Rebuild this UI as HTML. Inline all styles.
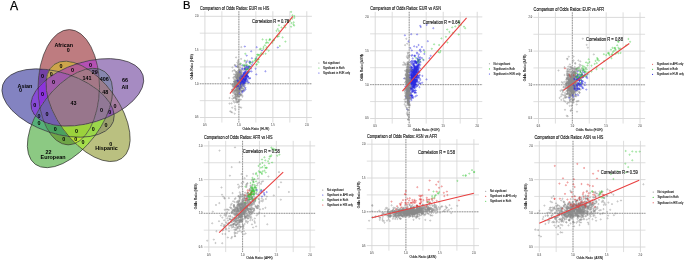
<!DOCTYPE html>
<html><head><meta charset="utf-8"><style>
html,body{margin:0;padding:0;background:#fff;width:685px;height:261px;overflow:hidden}
svg{display:block}
text{font-family:"Liberation Sans",sans-serif}
</style></head><body>
<svg style="will-change:transform" width="685" height="261" viewBox="0 0 685 261">
<rect width="685" height="261" fill="#fff"/>
<text x="10.00" y="10.00" font-size="12.2" font-weight="normal" text-anchor="start" fill="#000" stroke="#000" stroke-width="0.25" >A</text>
<defs><clipPath id="c0"><ellipse cx="-5.645" cy="-15.249" rx="58.020" ry="30.590" transform="rotate(-89.410 -5.645 -15.249)" /></clipPath><clipPath id="c1"><ellipse cx="12.758" cy="-10.081" rx="58.020" ry="30.590" transform="rotate(-17.410 12.758 -10.081)" /></clipPath><clipPath id="c2"><ellipse cx="13.530" cy="9.018" rx="58.020" ry="30.590" transform="rotate(54.590 13.530 9.018)" /></clipPath><clipPath id="c3"><ellipse cx="-4.396" cy="15.655" rx="58.020" ry="30.590" transform="rotate(126.590 -4.396 15.655)" /></clipPath><clipPath id="c4"><ellipse cx="-16.247" cy="0.657" rx="58.020" ry="30.590" transform="rotate(198.590 -16.247 0.657)" /></clipPath></defs>
<g transform="translate(74.441 102.398) scale(1.0060 0.9941)">
<mask id="m1" maskUnits="userSpaceOnUse" x="-80" y="-80" width="160" height="160"><rect x="-80" y="-80" width="160" height="160" fill="#fff"/><ellipse cx="12.758" cy="-10.081" rx="58.020" ry="30.590" transform="rotate(-17.410 12.758 -10.081)" fill="#000" stroke="#000" stroke-width="0.3"/><ellipse cx="13.530" cy="9.018" rx="58.020" ry="30.590" transform="rotate(54.590 13.530 9.018)" fill="#000" stroke="#000" stroke-width="0.3"/><ellipse cx="-4.396" cy="15.655" rx="58.020" ry="30.590" transform="rotate(126.590 -4.396 15.655)" fill="#000" stroke="#000" stroke-width="0.3"/><ellipse cx="-16.247" cy="0.657" rx="58.020" ry="30.590" transform="rotate(198.590 -16.247 0.657)" fill="#000" stroke="#000" stroke-width="0.3"/></mask>
<g clip-path="url(#c0)"><g mask="url(#m1)"><rect x="-80" y="-80" width="160" height="160" fill="rgb(190, 124, 128)"/></g></g>
<mask id="m2" maskUnits="userSpaceOnUse" x="-80" y="-80" width="160" height="160"><rect x="-80" y="-80" width="160" height="160" fill="#fff"/><ellipse cx="-5.645" cy="-15.249" rx="58.020" ry="30.590" transform="rotate(-89.410 -5.645 -15.249)" fill="#000" stroke="#000" stroke-width="0.3"/><ellipse cx="12.758" cy="-10.081" rx="58.020" ry="30.590" transform="rotate(-17.410 12.758 -10.081)" fill="#000" stroke="#000" stroke-width="0.3"/><ellipse cx="13.530" cy="9.018" rx="58.020" ry="30.590" transform="rotate(54.590 13.530 9.018)" fill="#000" stroke="#000" stroke-width="0.3"/><ellipse cx="-4.396" cy="15.655" rx="58.020" ry="30.590" transform="rotate(126.590 -4.396 15.655)" fill="#000" stroke="#000" stroke-width="0.3"/></mask>
<g clip-path="url(#c4)"><g mask="url(#m2)"><rect x="-80" y="-80" width="160" height="160" fill="rgb(131, 131, 193)"/></g></g>
<mask id="m3" maskUnits="userSpaceOnUse" x="-80" y="-80" width="160" height="160"><rect x="-80" y="-80" width="160" height="160" fill="#fff"/><ellipse cx="-5.645" cy="-15.249" rx="58.020" ry="30.590" transform="rotate(-89.410 -5.645 -15.249)" fill="#000" stroke="#000" stroke-width="0.3"/><ellipse cx="13.530" cy="9.018" rx="58.020" ry="30.590" transform="rotate(54.590 13.530 9.018)" fill="#000" stroke="#000" stroke-width="0.3"/><ellipse cx="-4.396" cy="15.655" rx="58.020" ry="30.590" transform="rotate(126.590 -4.396 15.655)" fill="#000" stroke="#000" stroke-width="0.3"/><ellipse cx="-16.247" cy="0.657" rx="58.020" ry="30.590" transform="rotate(198.590 -16.247 0.657)" fill="#000" stroke="#000" stroke-width="0.3"/></mask>
<g clip-path="url(#c1)"><g mask="url(#m3)"><rect x="-80" y="-80" width="160" height="160" fill="rgb(166, 139, 194)"/></g></g>
<mask id="m4" maskUnits="userSpaceOnUse" x="-80" y="-80" width="160" height="160"><rect x="-80" y="-80" width="160" height="160" fill="#fff"/><ellipse cx="-5.645" cy="-15.249" rx="58.020" ry="30.590" transform="rotate(-89.410 -5.645 -15.249)" fill="#000" stroke="#000" stroke-width="0.3"/><ellipse cx="12.758" cy="-10.081" rx="58.020" ry="30.590" transform="rotate(-17.410 12.758 -10.081)" fill="#000" stroke="#000" stroke-width="0.3"/><ellipse cx="-4.396" cy="15.655" rx="58.020" ry="30.590" transform="rotate(126.590 -4.396 15.655)" fill="#000" stroke="#000" stroke-width="0.3"/><ellipse cx="-16.247" cy="0.657" rx="58.020" ry="30.590" transform="rotate(198.590 -16.247 0.657)" fill="#000" stroke="#000" stroke-width="0.3"/></mask>
<g clip-path="url(#c2)"><g mask="url(#m4)"><rect x="-80" y="-80" width="160" height="160" fill="rgb(186, 192, 128)"/></g></g>
<mask id="m5" maskUnits="userSpaceOnUse" x="-80" y="-80" width="160" height="160"><rect x="-80" y="-80" width="160" height="160" fill="#fff"/><ellipse cx="-5.645" cy="-15.249" rx="58.020" ry="30.590" transform="rotate(-89.410 -5.645 -15.249)" fill="#000" stroke="#000" stroke-width="0.3"/><ellipse cx="12.758" cy="-10.081" rx="58.020" ry="30.590" transform="rotate(-17.410 12.758 -10.081)" fill="#000" stroke="#000" stroke-width="0.3"/><ellipse cx="13.530" cy="9.018" rx="58.020" ry="30.590" transform="rotate(54.590 13.530 9.018)" fill="#000" stroke="#000" stroke-width="0.3"/><ellipse cx="-16.247" cy="0.657" rx="58.020" ry="30.590" transform="rotate(198.590 -16.247 0.657)" fill="#000" stroke="#000" stroke-width="0.3"/></mask>
<g clip-path="url(#c3)"><g mask="url(#m5)"><rect x="-80" y="-80" width="160" height="160" fill="rgb(140, 201, 131)"/></g></g>
<mask id="m6" maskUnits="userSpaceOnUse" x="-80" y="-80" width="160" height="160"><rect x="-80" y="-80" width="160" height="160" fill="#fff"/><ellipse cx="12.758" cy="-10.081" rx="58.020" ry="30.590" transform="rotate(-17.410 12.758 -10.081)" fill="#000" stroke="#000" stroke-width="0.3"/><ellipse cx="13.530" cy="9.018" rx="58.020" ry="30.590" transform="rotate(54.590 13.530 9.018)" fill="#000" stroke="#000" stroke-width="0.3"/><ellipse cx="-4.396" cy="15.655" rx="58.020" ry="30.590" transform="rotate(126.590 -4.396 15.655)" fill="#000" stroke="#000" stroke-width="0.3"/></mask>
<g clip-path="url(#c4)"><g clip-path="url(#c0)"><g mask="url(#m6)"><rect x="-80" y="-80" width="160" height="160" fill="rgb(115, 65, 165)"/></g></g></g>
<mask id="m7" maskUnits="userSpaceOnUse" x="-80" y="-80" width="160" height="160"><rect x="-80" y="-80" width="160" height="160" fill="#fff"/><ellipse cx="-5.645" cy="-15.249" rx="58.020" ry="30.590" transform="rotate(-89.410 -5.645 -15.249)" fill="#000" stroke="#000" stroke-width="0.3"/><ellipse cx="13.530" cy="9.018" rx="58.020" ry="30.590" transform="rotate(54.590 13.530 9.018)" fill="#000" stroke="#000" stroke-width="0.3"/><ellipse cx="-4.396" cy="15.655" rx="58.020" ry="30.590" transform="rotate(126.590 -4.396 15.655)" fill="#000" stroke="#000" stroke-width="0.3"/></mask>
<g clip-path="url(#c4)"><g clip-path="url(#c1)"><g mask="url(#m7)"><rect x="-80" y="-80" width="160" height="160" fill="rgb(135, 75, 215)"/></g></g></g>
<mask id="m8" maskUnits="userSpaceOnUse" x="-80" y="-80" width="160" height="160"><rect x="-80" y="-80" width="160" height="160" fill="#fff"/><ellipse cx="-5.645" cy="-15.249" rx="58.020" ry="30.590" transform="rotate(-89.410 -5.645 -15.249)" fill="#000" stroke="#000" stroke-width="0.3"/><ellipse cx="12.758" cy="-10.081" rx="58.020" ry="30.590" transform="rotate(-17.410 12.758 -10.081)" fill="#000" stroke="#000" stroke-width="0.3"/><ellipse cx="13.530" cy="9.018" rx="58.020" ry="30.590" transform="rotate(54.590 13.530 9.018)" fill="#000" stroke="#000" stroke-width="0.3"/></mask>
<g clip-path="url(#c4)"><g clip-path="url(#c3)"><g mask="url(#m8)"><rect x="-80" y="-80" width="160" height="160" fill="rgb(85, 175, 120)"/></g></g></g>
<mask id="m9" maskUnits="userSpaceOnUse" x="-80" y="-80" width="160" height="160"><rect x="-80" y="-80" width="160" height="160" fill="#fff"/><ellipse cx="12.758" cy="-10.081" rx="58.020" ry="30.590" transform="rotate(-17.410 12.758 -10.081)" fill="#000" stroke="#000" stroke-width="0.3"/><ellipse cx="-4.396" cy="15.655" rx="58.020" ry="30.590" transform="rotate(126.590 -4.396 15.655)" fill="#000" stroke="#000" stroke-width="0.3"/><ellipse cx="-16.247" cy="0.657" rx="58.020" ry="30.590" transform="rotate(198.590 -16.247 0.657)" fill="#000" stroke="#000" stroke-width="0.3"/></mask>
<g clip-path="url(#c2)"><g clip-path="url(#c0)"><g mask="url(#m9)"><rect x="-80" y="-80" width="160" height="160" fill="rgb(205, 165, 75)"/></g></g></g>
<mask id="m10" maskUnits="userSpaceOnUse" x="-80" y="-80" width="160" height="160"><rect x="-80" y="-80" width="160" height="160" fill="#fff"/><ellipse cx="12.758" cy="-10.081" rx="58.020" ry="30.590" transform="rotate(-17.410 12.758 -10.081)" fill="#000" stroke="#000" stroke-width="0.3"/><ellipse cx="13.530" cy="9.018" rx="58.020" ry="30.590" transform="rotate(54.590 13.530 9.018)" fill="#000" stroke="#000" stroke-width="0.3"/><ellipse cx="-16.247" cy="0.657" rx="58.020" ry="30.590" transform="rotate(198.590 -16.247 0.657)" fill="#000" stroke="#000" stroke-width="0.3"/></mask>
<g clip-path="url(#c3)"><g clip-path="url(#c0)"><g mask="url(#m10)"><rect x="-80" y="-80" width="160" height="160" fill="rgb(110, 165, 70)"/></g></g></g>
<mask id="m11" maskUnits="userSpaceOnUse" x="-80" y="-80" width="160" height="160"><rect x="-80" y="-80" width="160" height="160" fill="#fff"/><ellipse cx="-5.645" cy="-15.249" rx="58.020" ry="30.590" transform="rotate(-89.410 -5.645 -15.249)" fill="#000" stroke="#000" stroke-width="0.3"/><ellipse cx="12.758" cy="-10.081" rx="58.020" ry="30.590" transform="rotate(-17.410 12.758 -10.081)" fill="#000" stroke="#000" stroke-width="0.3"/><ellipse cx="-16.247" cy="0.657" rx="58.020" ry="30.590" transform="rotate(198.590 -16.247 0.657)" fill="#000" stroke="#000" stroke-width="0.3"/></mask>
<g clip-path="url(#c3)"><g clip-path="url(#c2)"><g mask="url(#m11)"><rect x="-80" y="-80" width="160" height="160" fill="rgb(165, 222, 75)"/></g></g></g>
<mask id="m12" maskUnits="userSpaceOnUse" x="-80" y="-80" width="160" height="160"><rect x="-80" y="-80" width="160" height="160" fill="#fff"/><ellipse cx="13.530" cy="9.018" rx="58.020" ry="30.590" transform="rotate(54.590 13.530 9.018)" fill="#000" stroke="#000" stroke-width="0.3"/><ellipse cx="-4.396" cy="15.655" rx="58.020" ry="30.590" transform="rotate(126.590 -4.396 15.655)" fill="#000" stroke="#000" stroke-width="0.3"/><ellipse cx="-16.247" cy="0.657" rx="58.020" ry="30.590" transform="rotate(198.590 -16.247 0.657)" fill="#000" stroke="#000" stroke-width="0.3"/></mask>
<g clip-path="url(#c1)"><g clip-path="url(#c0)"><g mask="url(#m12)"><rect x="-80" y="-80" width="160" height="160" fill="rgb(180, 80, 180)"/></g></g></g>
<mask id="m13" maskUnits="userSpaceOnUse" x="-80" y="-80" width="160" height="160"><rect x="-80" y="-80" width="160" height="160" fill="#fff"/><ellipse cx="-5.645" cy="-15.249" rx="58.020" ry="30.590" transform="rotate(-89.410 -5.645 -15.249)" fill="#000" stroke="#000" stroke-width="0.3"/><ellipse cx="12.758" cy="-10.081" rx="58.020" ry="30.590" transform="rotate(-17.410 12.758 -10.081)" fill="#000" stroke="#000" stroke-width="0.3"/><ellipse cx="-4.396" cy="15.655" rx="58.020" ry="30.590" transform="rotate(126.590 -4.396 15.655)" fill="#000" stroke="#000" stroke-width="0.3"/></mask>
<g clip-path="url(#c4)"><g clip-path="url(#c2)"><g mask="url(#m13)"><rect x="-80" y="-80" width="160" height="160" fill="rgb(155, 160, 110)"/></g></g></g>
<mask id="m14" maskUnits="userSpaceOnUse" x="-80" y="-80" width="160" height="160"><rect x="-80" y="-80" width="160" height="160" fill="#fff"/><ellipse cx="-5.645" cy="-15.249" rx="58.020" ry="30.590" transform="rotate(-89.410 -5.645 -15.249)" fill="#000" stroke="#000" stroke-width="0.3"/><ellipse cx="13.530" cy="9.018" rx="58.020" ry="30.590" transform="rotate(54.590 13.530 9.018)" fill="#000" stroke="#000" stroke-width="0.3"/><ellipse cx="-16.247" cy="0.657" rx="58.020" ry="30.590" transform="rotate(198.590 -16.247 0.657)" fill="#000" stroke="#000" stroke-width="0.3"/></mask>
<g clip-path="url(#c3)"><g clip-path="url(#c1)"><g mask="url(#m14)"><rect x="-80" y="-80" width="160" height="160" fill="rgb(135, 135, 175)"/></g></g></g>
<mask id="m15" maskUnits="userSpaceOnUse" x="-80" y="-80" width="160" height="160"><rect x="-80" y="-80" width="160" height="160" fill="#fff"/><ellipse cx="-5.645" cy="-15.249" rx="58.020" ry="30.590" transform="rotate(-89.410 -5.645 -15.249)" fill="#000" stroke="#000" stroke-width="0.3"/><ellipse cx="-4.396" cy="15.655" rx="58.020" ry="30.590" transform="rotate(126.590 -4.396 15.655)" fill="#000" stroke="#000" stroke-width="0.3"/><ellipse cx="-16.247" cy="0.657" rx="58.020" ry="30.590" transform="rotate(198.590 -16.247 0.657)" fill="#000" stroke="#000" stroke-width="0.3"/></mask>
<g clip-path="url(#c2)"><g clip-path="url(#c1)"><g mask="url(#m15)"><rect x="-80" y="-80" width="160" height="160" fill="rgb(165, 125, 160)"/></g></g></g>
<mask id="m16" maskUnits="userSpaceOnUse" x="-80" y="-80" width="160" height="160"><rect x="-80" y="-80" width="160" height="160" fill="#fff"/><ellipse cx="-5.645" cy="-15.249" rx="58.020" ry="30.590" transform="rotate(-89.410 -5.645 -15.249)" fill="#000" stroke="#000" stroke-width="0.3"/><ellipse cx="13.530" cy="9.018" rx="58.020" ry="30.590" transform="rotate(54.590 13.530 9.018)" fill="#000" stroke="#000" stroke-width="0.3"/></mask>
<g clip-path="url(#c4)"><g clip-path="url(#c3)"><g clip-path="url(#c1)"><g mask="url(#m16)"><rect x="-80" y="-80" width="160" height="160" fill="rgb(105, 100, 175)"/></g></g></g></g>
<mask id="m17" maskUnits="userSpaceOnUse" x="-80" y="-80" width="160" height="160"><rect x="-80" y="-80" width="160" height="160" fill="#fff"/><ellipse cx="13.530" cy="9.018" rx="58.020" ry="30.590" transform="rotate(54.590 13.530 9.018)" fill="#000" stroke="#000" stroke-width="0.3"/><ellipse cx="-4.396" cy="15.655" rx="58.020" ry="30.590" transform="rotate(126.590 -4.396 15.655)" fill="#000" stroke="#000" stroke-width="0.3"/></mask>
<g clip-path="url(#c4)"><g clip-path="url(#c1)"><g clip-path="url(#c0)"><g mask="url(#m17)"><rect x="-80" y="-80" width="160" height="160" fill="rgb(140, 50, 220)"/></g></g></g></g>
<mask id="m18" maskUnits="userSpaceOnUse" x="-80" y="-80" width="160" height="160"><rect x="-80" y="-80" width="160" height="160" fill="#fff"/><ellipse cx="12.758" cy="-10.081" rx="58.020" ry="30.590" transform="rotate(-17.410 12.758 -10.081)" fill="#000" stroke="#000" stroke-width="0.3"/><ellipse cx="13.530" cy="9.018" rx="58.020" ry="30.590" transform="rotate(54.590 13.530 9.018)" fill="#000" stroke="#000" stroke-width="0.3"/></mask>
<g clip-path="url(#c4)"><g clip-path="url(#c3)"><g clip-path="url(#c0)"><g mask="url(#m18)"><rect x="-80" y="-80" width="160" height="160" fill="rgb(75, 160, 95)"/></g></g></g></g>
<mask id="m19" maskUnits="userSpaceOnUse" x="-80" y="-80" width="160" height="160"><rect x="-80" y="-80" width="160" height="160" fill="#fff"/><ellipse cx="12.758" cy="-10.081" rx="58.020" ry="30.590" transform="rotate(-17.410 12.758 -10.081)" fill="#000" stroke="#000" stroke-width="0.3"/><ellipse cx="-4.396" cy="15.655" rx="58.020" ry="30.590" transform="rotate(126.590 -4.396 15.655)" fill="#000" stroke="#000" stroke-width="0.3"/></mask>
<g clip-path="url(#c4)"><g clip-path="url(#c2)"><g clip-path="url(#c0)"><g mask="url(#m19)"><rect x="-80" y="-80" width="160" height="160" fill="rgb(190, 165, 95)"/></g></g></g></g>
<mask id="m20" maskUnits="userSpaceOnUse" x="-80" y="-80" width="160" height="160"><rect x="-80" y="-80" width="160" height="160" fill="#fff"/><ellipse cx="-4.396" cy="15.655" rx="58.020" ry="30.590" transform="rotate(126.590 -4.396 15.655)" fill="#000" stroke="#000" stroke-width="0.3"/><ellipse cx="-16.247" cy="0.657" rx="58.020" ry="30.590" transform="rotate(198.590 -16.247 0.657)" fill="#000" stroke="#000" stroke-width="0.3"/></mask>
<g clip-path="url(#c2)"><g clip-path="url(#c1)"><g clip-path="url(#c0)"><g mask="url(#m20)"><rect x="-80" y="-80" width="160" height="160" fill="rgb(180, 95, 145)"/></g></g></g></g>
<mask id="m21" maskUnits="userSpaceOnUse" x="-80" y="-80" width="160" height="160"><rect x="-80" y="-80" width="160" height="160" fill="#fff"/><ellipse cx="12.758" cy="-10.081" rx="58.020" ry="30.590" transform="rotate(-17.410 12.758 -10.081)" fill="#000" stroke="#000" stroke-width="0.3"/><ellipse cx="-16.247" cy="0.657" rx="58.020" ry="30.590" transform="rotate(198.590 -16.247 0.657)" fill="#000" stroke="#000" stroke-width="0.3"/></mask>
<g clip-path="url(#c3)"><g clip-path="url(#c2)"><g clip-path="url(#c0)"><g mask="url(#m21)"><rect x="-80" y="-80" width="160" height="160" fill="rgb(185, 226, 55)"/></g></g></g></g>
<mask id="m22" maskUnits="userSpaceOnUse" x="-80" y="-80" width="160" height="160"><rect x="-80" y="-80" width="160" height="160" fill="#fff"/><ellipse cx="-5.645" cy="-15.249" rx="58.020" ry="30.590" transform="rotate(-89.410 -5.645 -15.249)" fill="#000" stroke="#000" stroke-width="0.3"/><ellipse cx="12.758" cy="-10.081" rx="58.020" ry="30.590" transform="rotate(-17.410 12.758 -10.081)" fill="#000" stroke="#000" stroke-width="0.3"/></mask>
<g clip-path="url(#c4)"><g clip-path="url(#c3)"><g clip-path="url(#c2)"><g mask="url(#m22)"><rect x="-80" y="-80" width="160" height="160" fill="rgb(155, 215, 75)"/></g></g></g></g>
<mask id="m23" maskUnits="userSpaceOnUse" x="-80" y="-80" width="160" height="160"><rect x="-80" y="-80" width="160" height="160" fill="#fff"/><ellipse cx="13.530" cy="9.018" rx="58.020" ry="30.590" transform="rotate(54.590 13.530 9.018)" fill="#000" stroke="#000" stroke-width="0.3"/><ellipse cx="-16.247" cy="0.657" rx="58.020" ry="30.590" transform="rotate(198.590 -16.247 0.657)" fill="#000" stroke="#000" stroke-width="0.3"/></mask>
<g clip-path="url(#c3)"><g clip-path="url(#c1)"><g clip-path="url(#c0)"><g mask="url(#m23)"><rect x="-80" y="-80" width="160" height="160" fill="rgb(130, 105, 150)"/></g></g></g></g>
<mask id="m24" maskUnits="userSpaceOnUse" x="-80" y="-80" width="160" height="160"><rect x="-80" y="-80" width="160" height="160" fill="#fff"/><ellipse cx="-5.645" cy="-15.249" rx="58.020" ry="30.590" transform="rotate(-89.410 -5.645 -15.249)" fill="#000" stroke="#000" stroke-width="0.3"/><ellipse cx="-16.247" cy="0.657" rx="58.020" ry="30.590" transform="rotate(198.590 -16.247 0.657)" fill="#000" stroke="#000" stroke-width="0.3"/></mask>
<g clip-path="url(#c3)"><g clip-path="url(#c2)"><g clip-path="url(#c1)"><g mask="url(#m24)"><rect x="-80" y="-80" width="160" height="160" fill="rgb(155, 125, 140)"/></g></g></g></g>
<mask id="m25" maskUnits="userSpaceOnUse" x="-80" y="-80" width="160" height="160"><rect x="-80" y="-80" width="160" height="160" fill="#fff"/><ellipse cx="-5.645" cy="-15.249" rx="58.020" ry="30.590" transform="rotate(-89.410 -5.645 -15.249)" fill="#000" stroke="#000" stroke-width="0.3"/><ellipse cx="-4.396" cy="15.655" rx="58.020" ry="30.590" transform="rotate(126.590 -4.396 15.655)" fill="#000" stroke="#000" stroke-width="0.3"/></mask>
<g clip-path="url(#c4)"><g clip-path="url(#c2)"><g clip-path="url(#c1)"><g mask="url(#m25)"><rect x="-80" y="-80" width="160" height="160" fill="rgb(140, 90, 170)"/></g></g></g></g>
<mask id="m26" maskUnits="userSpaceOnUse" x="-80" y="-80" width="160" height="160"><rect x="-80" y="-80" width="160" height="160" fill="#fff"/><ellipse cx="13.530" cy="9.018" rx="58.020" ry="30.590" transform="rotate(54.590 13.530 9.018)" fill="#000" stroke="#000" stroke-width="0.3"/></mask>
<g clip-path="url(#c4)"><g clip-path="url(#c3)"><g clip-path="url(#c1)"><g clip-path="url(#c0)"><g mask="url(#m26)"><rect x="-80" y="-80" width="160" height="160" fill="rgb(115, 95, 175)"/></g></g></g></g></g>
<mask id="m27" maskUnits="userSpaceOnUse" x="-80" y="-80" width="160" height="160"><rect x="-80" y="-80" width="160" height="160" fill="#fff"/><ellipse cx="-4.396" cy="15.655" rx="58.020" ry="30.590" transform="rotate(126.590 -4.396 15.655)" fill="#000" stroke="#000" stroke-width="0.3"/></mask>
<g clip-path="url(#c4)"><g clip-path="url(#c2)"><g clip-path="url(#c1)"><g clip-path="url(#c0)"><g mask="url(#m27)"><rect x="-80" y="-80" width="160" height="160" fill="rgb(160, 90, 170)"/></g></g></g></g></g>
<mask id="m28" maskUnits="userSpaceOnUse" x="-80" y="-80" width="160" height="160"><rect x="-80" y="-80" width="160" height="160" fill="#fff"/><ellipse cx="12.758" cy="-10.081" rx="58.020" ry="30.590" transform="rotate(-17.410 12.758 -10.081)" fill="#000" stroke="#000" stroke-width="0.3"/></mask>
<g clip-path="url(#c4)"><g clip-path="url(#c3)"><g clip-path="url(#c2)"><g clip-path="url(#c0)"><g mask="url(#m28)"><rect x="-80" y="-80" width="160" height="160" fill="rgb(155, 210, 60)"/></g></g></g></g></g>
<mask id="m29" maskUnits="userSpaceOnUse" x="-80" y="-80" width="160" height="160"><rect x="-80" y="-80" width="160" height="160" fill="#fff"/><ellipse cx="-16.247" cy="0.657" rx="58.020" ry="30.590" transform="rotate(198.590 -16.247 0.657)" fill="#000" stroke="#000" stroke-width="0.3"/></mask>
<g clip-path="url(#c3)"><g clip-path="url(#c2)"><g clip-path="url(#c1)"><g clip-path="url(#c0)"><g mask="url(#m29)"><rect x="-80" y="-80" width="160" height="160" fill="rgb(165, 120, 135)"/></g></g></g></g></g>
<mask id="m30" maskUnits="userSpaceOnUse" x="-80" y="-80" width="160" height="160"><rect x="-80" y="-80" width="160" height="160" fill="#fff"/><ellipse cx="-5.645" cy="-15.249" rx="58.020" ry="30.590" transform="rotate(-89.410 -5.645 -15.249)" fill="#000" stroke="#000" stroke-width="0.3"/></mask>
<g clip-path="url(#c4)"><g clip-path="url(#c3)"><g clip-path="url(#c2)"><g clip-path="url(#c1)"><g mask="url(#m30)"><rect x="-80" y="-80" width="160" height="160" fill="rgb(145, 120, 150)"/></g></g></g></g></g>
<g clip-path="url(#c4)"><g clip-path="url(#c3)"><g clip-path="url(#c2)"><g clip-path="url(#c1)"><g clip-path="url(#c0)"><rect x="-80" y="-80" width="160" height="160" fill="rgb(152, 118, 140)"/></g></g></g></g></g>
<ellipse cx="-5.645" cy="-15.249" rx="58.020" ry="30.590" transform="rotate(-89.410 -5.645 -15.249)" fill="none" stroke="#1e1e1e" stroke-width="0.6"/>
<ellipse cx="12.758" cy="-10.081" rx="58.020" ry="30.590" transform="rotate(-17.410 12.758 -10.081)" fill="none" stroke="#1e1e1e" stroke-width="0.6"/>
<ellipse cx="13.530" cy="9.018" rx="58.020" ry="30.590" transform="rotate(54.590 13.530 9.018)" fill="none" stroke="#1e1e1e" stroke-width="0.6"/>
<ellipse cx="-4.396" cy="15.655" rx="58.020" ry="30.590" transform="rotate(126.590 -4.396 15.655)" fill="none" stroke="#1e1e1e" stroke-width="0.6"/>
<ellipse cx="-16.247" cy="0.657" rx="58.020" ry="30.590" transform="rotate(198.590 -16.247 0.657)" fill="none" stroke="#1e1e1e" stroke-width="0.6"/>
</g>
<text x="63.70" y="47.29" font-size="5.4" font-weight="bold" text-anchor="middle" fill="#000" >African</text>
<text x="68.20" y="51.59" font-size="5.4" font-weight="bold" text-anchor="middle" fill="#000" >0</text>
<text x="24.90" y="88.09" font-size="5.4" font-weight="bold" text-anchor="middle" fill="#000" >Asian</text>
<text x="20.60" y="92.29" font-size="5.4" font-weight="bold" text-anchor="middle" fill="#000" >0</text>
<text x="124.90" y="82.19" font-size="5.4" font-weight="bold" text-anchor="middle" fill="#000" >66</text>
<text x="124.90" y="88.89" font-size="5.4" font-weight="bold" text-anchor="middle" fill="#000" >All</text>
<text x="110.70" y="145.79" font-size="5.4" font-weight="bold" text-anchor="middle" fill="#000" >0</text>
<text x="106.50" y="150.49" font-size="5.4" font-weight="bold" text-anchor="middle" fill="#000" >Hispanic</text>
<text x="48.50" y="153.99" font-size="5.4" font-weight="bold" text-anchor="middle" fill="#000" >22</text>
<text x="53.00" y="158.99" font-size="5.4" font-weight="bold" text-anchor="middle" fill="#000" >European</text>
<text x="42.40" y="78.29" font-size="5.4" font-weight="bold" text-anchor="middle" fill="#000" >0</text>
<text x="51.30" y="75.89" font-size="5.4" font-weight="bold" text-anchor="middle" fill="#000" >0</text>
<text x="61.10" y="68.49" font-size="5.4" font-weight="bold" text-anchor="middle" fill="#000" >0</text>
<text x="72.50" y="72.09" font-size="5.4" font-weight="bold" text-anchor="middle" fill="#000" >0</text>
<text x="53.50" y="84.09" font-size="5.4" font-weight="bold" text-anchor="middle" fill="#000" >0</text>
<text x="42.40" y="95.99" font-size="5.4" font-weight="bold" text-anchor="middle" fill="#000" >0</text>
<text x="34.70" y="107.29" font-size="5.4" font-weight="bold" text-anchor="middle" fill="#000" >0</text>
<text x="38.90" y="117.99" font-size="5.4" font-weight="bold" text-anchor="middle" fill="#000" >0</text>
<text x="46.90" y="116.09" font-size="5.4" font-weight="bold" text-anchor="middle" fill="#000" >0</text>
<text x="39.00" y="125.29" font-size="5.4" font-weight="bold" text-anchor="middle" fill="#000" >0</text>
<text x="55.30" y="130.99" font-size="5.4" font-weight="bold" text-anchor="middle" fill="#000" >0</text>
<text x="63.70" y="141.49" font-size="5.4" font-weight="bold" text-anchor="middle" fill="#000" >0</text>
<text x="75.70" y="141.39" font-size="5.4" font-weight="bold" text-anchor="middle" fill="#000" >0</text>
<text x="83.10" y="144.49" font-size="5.4" font-weight="bold" text-anchor="middle" fill="#000" >0</text>
<text x="76.60" y="133.29" font-size="5.4" font-weight="bold" text-anchor="middle" fill="#000" >0</text>
<text x="93.30" y="130.99" font-size="5.4" font-weight="bold" text-anchor="middle" fill="#000" >0</text>
<text x="105.90" y="127.19" font-size="5.4" font-weight="bold" text-anchor="middle" fill="#000" >0</text>
<text x="101.60" y="111.69" font-size="5.4" font-weight="bold" text-anchor="middle" fill="#000" >0</text>
<text x="109.80" y="114.29" font-size="5.4" font-weight="bold" text-anchor="middle" fill="#000" >0</text>
<text x="115.00" y="108.09" font-size="5.4" font-weight="bold" text-anchor="middle" fill="#000" >0</text>
<text x="90.50" y="67.39" font-size="5.4" font-weight="bold" text-anchor="middle" fill="#000" >0</text>
<text x="94.80" y="73.79" font-size="5.4" font-weight="bold" text-anchor="middle" fill="#000" >29</text>
<text x="87.10" y="79.79" font-size="5.4" font-weight="bold" text-anchor="middle" fill="#000" >141</text>
<text x="104.30" y="80.69" font-size="5.4" font-weight="bold" text-anchor="middle" fill="#000" >406</text>
<text x="105.20" y="94.49" font-size="5.4" font-weight="bold" text-anchor="middle" fill="#000" >48</text>
<text x="73.50" y="105.09" font-size="5.4" font-weight="bold" text-anchor="middle" fill="#000" >43</text>
<text x="183.00" y="9.00" font-size="11.2" font-weight="normal" text-anchor="start" fill="#000" stroke="#000" stroke-width="0.2" >B</text>
<defs><marker id="mk_grey" markerUnits="userSpaceOnUse" markerWidth="4" markerHeight="4" refX="2" refY="2" overflow="visible"><circle cx="2" cy="2" r="0.6" fill="none" stroke="#8a8a8a" stroke-width="0.42"/></marker><marker id="mk_green" markerUnits="userSpaceOnUse" markerWidth="4" markerHeight="4" refX="2" refY="2" overflow="visible"><circle cx="2" cy="2" r="0.6" fill="none" stroke="#3cc83c" stroke-width="0.42"/></marker><marker id="mk_blue" markerUnits="userSpaceOnUse" markerWidth="4" markerHeight="4" refX="2" refY="2" overflow="visible"><circle cx="2" cy="2" r="0.6" fill="none" stroke="#2a2ae0" stroke-width="0.42"/></marker><marker id="mk_red" markerUnits="userSpaceOnUse" markerWidth="4" markerHeight="4" refX="2" refY="2" overflow="visible"><circle cx="2" cy="2" r="0.6" fill="none" stroke="#e03030" stroke-width="0.42"/></marker></defs>
<line x1="221.88" y1="11.24" x2="221.88" y2="122.56" stroke="#d6d6d6" stroke-width="0.8"/>
<line x1="199.81" y1="100.63" x2="311.90" y2="100.63" stroke="#d6d6d6" stroke-width="0.8"/>
<line x1="255.85" y1="11.24" x2="255.85" y2="122.56" stroke="#d6d6d6" stroke-width="0.8"/>
<line x1="199.81" y1="66.90" x2="311.90" y2="66.90" stroke="#d6d6d6" stroke-width="0.8"/>
<line x1="289.82" y1="11.24" x2="289.82" y2="122.56" stroke="#d6d6d6" stroke-width="0.8"/>
<line x1="199.81" y1="33.17" x2="311.90" y2="33.17" stroke="#d6d6d6" stroke-width="0.8"/>
<line x1="204.90" y1="11.24" x2="204.90" y2="122.56" stroke="#d6d6d6" stroke-width="0.9"/>
<line x1="199.81" y1="117.50" x2="311.90" y2="117.50" stroke="#d6d6d6" stroke-width="0.9"/>
<line x1="238.87" y1="11.24" x2="238.87" y2="122.56" stroke="#d6d6d6" stroke-width="0.9"/>
<line x1="199.81" y1="83.77" x2="311.90" y2="83.77" stroke="#d6d6d6" stroke-width="0.9"/>
<line x1="272.83" y1="11.24" x2="272.83" y2="122.56" stroke="#d6d6d6" stroke-width="0.9"/>
<line x1="199.81" y1="50.03" x2="311.90" y2="50.03" stroke="#d6d6d6" stroke-width="0.9"/>
<line x1="306.80" y1="11.24" x2="306.80" y2="122.56" stroke="#d6d6d6" stroke-width="0.9"/>
<line x1="199.81" y1="16.30" x2="311.90" y2="16.30" stroke="#d6d6d6" stroke-width="0.9"/>
<line x1="238.87" y1="11.24" x2="238.87" y2="122.56" stroke="#4a4a4a" stroke-width="0.5" stroke-dasharray="1.4 1.1"/>
<line x1="199.81" y1="83.77" x2="311.90" y2="83.77" stroke="#4a4a4a" stroke-width="0.5" stroke-dasharray="1.4 1.1"/>
<path d="M239.6 83.8M236.0 86.2M236.3 86.9M243.6 83.5M236.9 87.8M240.4 79.0M234.7 81.8M240.1 84.0M236.5 96.1M233.6 101.2M236.9 99.5M238.6 94.8M238.5 82.3M235.1 108.4M239.1 84.1M236.1 98.5M236.7 89.9M237.9 77.2M241.2 84.3M237.8 91.1M239.2 82.7M237.6 101.6M235.9 71.9M239.6 78.1M243.8 89.9M236.6 77.7M240.6 83.2M240.0 84.9M241.5 84.9M237.8 64.7M238.1 82.4M234.1 81.6M238.2 87.4M243.3 74.9M236.0 94.0M235.3 79.3M238.4 86.7M241.2 74.9M237.6 86.5M243.0 86.5M237.6 87.7M238.8 81.6M236.0 85.1M238.0 83.8M244.8 61.3M240.8 84.2M241.2 86.7M240.6 84.0M238.8 90.7M229.5 103.6M236.6 85.9M243.8 83.0M236.0 92.7M240.1 82.4M238.3 85.1M239.9 80.6M238.2 90.1M236.1 83.2M237.2 81.8M240.0 76.2M237.2 82.7M234.3 84.2M239.0 92.4M239.3 96.6M239.9 107.2M241.0 95.0M233.9 81.9M242.9 74.9M238.3 84.2M236.1 85.0M238.3 74.8M236.8 84.0M232.5 92.2M239.6 70.0M239.5 77.1M237.7 88.6M238.6 87.4M238.0 86.4M231.2 111.9M238.4 70.4M239.0 92.1M234.7 65.1M237.7 84.8M239.5 99.7M239.0 83.9M239.4 89.2M238.2 87.7M236.0 90.4M238.5 71.7M239.0 81.8M237.4 87.0M238.4 75.9M238.8 85.3M242.7 69.5M236.9 78.2M240.2 94.5M239.4 70.9M240.8 80.2M242.1 76.3M242.8 88.4M240.8 99.6M241.3 80.1M245.8 63.1M234.3 91.8M237.1 77.7M242.7 84.3M232.8 95.9M239.5 79.4M238.8 85.5M229.5 98.0M235.2 85.4M238.9 94.2M239.8 84.4M236.8 90.8M231.6 103.4M237.3 82.2M240.4 80.0M237.4 71.7M239.3 76.2M234.9 83.5M241.6 90.6M239.1 84.7M241.7 86.6M234.7 83.5M234.6 87.8M234.7 113.7M240.5 67.5M234.0 98.1M239.7 77.2M238.8 83.4M241.8 83.6M239.6 80.5M239.4 91.7M240.8 88.8M237.8 92.6M235.7 83.5M244.8 67.1M241.7 90.7M228.9 78.0M238.9 81.0M236.4 82.9M238.0 86.6M240.3 75.5M242.1 84.1M237.9 87.0M240.8 94.9M241.0 78.2M239.6 78.4M238.4 81.9M238.9 85.9M241.3 71.8M237.4 84.1M243.4 90.8M239.9 75.9M236.6 85.7M240.8 84.4M237.7 88.2M239.0 85.9M237.4 94.9M240.8 92.5M239.7 89.9M239.1 73.6M238.9 87.9M236.2 83.6M246.1 79.3M238.1 86.1M238.9 91.2M234.9 94.6M237.9 76.2M242.0 77.9M240.0 82.3M239.7 69.9M233.2 90.5M241.5 83.8M237.4 76.9M236.5 92.3M238.5 80.5M240.0 81.7M238.6 86.2M238.8 81.0M242.8 80.9M239.5 78.3M238.7 96.2M230.2 111.3M240.2 80.0M235.3 84.5M236.8 86.8M247.9 76.8M237.6 82.3M237.7 94.9M235.3 85.2M235.1 82.1M244.1 70.4M238.4 74.2M238.9 79.4M237.5 87.4M232.3 98.7M238.9 79.0M240.8 82.7M234.6 102.5M239.7 82.7M241.3 87.2M235.8 81.7M239.8 88.9M235.9 80.9M241.8 70.9M238.9 74.0M235.1 86.5M241.3 47.1M238.5 72.7M235.0 82.2M240.8 86.7M240.0 90.4M236.2 80.4M237.5 87.5M237.5 84.1M236.2 97.0M234.4 92.8M242.7 84.8M237.7 96.8M234.6 91.2M237.8 73.2M238.2 74.4M238.5 79.9M239.9 91.0M240.2 85.1M232.8 84.1M238.9 84.9M236.8 73.1M234.7 83.7M236.6 78.2M237.0 102.6M236.7 77.2M235.6 94.6M239.1 96.3M236.6 90.0M236.9 77.3M237.2 80.8M233.5 93.1M239.6 63.8M238.9 82.5M239.2 82.2M237.5 66.7M235.3 96.1M239.8 94.6M237.1 77.1M235.9 101.8M232.5 71.1M234.0 74.3M236.6 73.7M234.5 86.0M241.5 91.5M238.3 74.6M233.5 90.4M238.4 87.7M238.6 84.5M237.5 96.6M241.6 84.3M239.7 70.7M237.6 94.8M236.2 89.3M235.7 84.1M239.2 73.4M238.4 80.5M235.5 90.4M236.5 86.6M239.0 81.8M238.1 93.8M235.6 97.8M233.9 85.6M239.2 83.2M237.4 85.3M236.7 86.1M237.6 85.4M236.6 83.0M239.4 81.8M237.7 84.8M233.8 77.2M239.7 80.6M239.9 81.8M237.8 88.9M240.5 78.3M234.2 81.2M246.5 74.2M240.5 73.6M241.2 107.7M231.8 84.5M234.2 79.2M237.3 90.4M238.8 70.6M245.2 81.2M239.5 74.7M233.0 86.8M239.3 88.3M239.3 81.2M237.5 74.8M241.7 84.7M242.7 78.1M238.4 80.4M237.0 81.1M239.1 96.2M239.6 84.3M236.3 100.1M236.8 87.6M235.4 109.9M240.9 74.5M238.4 88.7M233.3 77.9M240.1 84.8M243.2 79.0M240.8 72.7M240.7 81.9M237.8 93.0M245.9 74.9M238.5 85.8M244.0 81.8M242.3 84.3M237.9 90.5M241.4 86.3M235.7 74.4M239.0 88.9M234.7 88.7M240.3 77.5M238.2 80.4M239.0 77.1M237.2 73.3M238.8 90.5M239.6 87.5M236.1 80.7M237.7 82.8M238.1 77.8M242.2 88.5M245.7 65.4M239.4 83.3M239.8 69.2M238.4 92.7M236.3 78.0M233.7 98.0M236.7 75.1M239.3 84.9M238.5 78.5M237.4 80.3M235.7 86.8M239.5 76.3M237.7 88.5M240.1 85.3M235.6 94.9M244.5 87.2M239.3 76.1M245.6 77.4M237.7 85.7M241.1 73.4M238.3 80.1M247.4 60.6M241.3 78.7M239.0 100.2M240.2 86.1M238.5 78.8M238.5 101.2M237.6 89.5M237.5 88.8M241.5 82.1M241.1 58.9M235.5 97.8M237.3 91.0M234.7 82.8M235.1 80.5M238.8 81.2M238.5 86.3M236.7 88.5M237.2 102.1M245.5 68.4M241.8 72.4M240.9 87.6M238.7 84.2M238.9 85.3M238.3 87.5M237.2 92.2M240.4 64.4M240.4 86.5M235.7 75.5M241.3 85.9M239.3 82.0M238.0 65.4M236.9 82.5M234.8 70.4M236.6 90.5M241.4 77.0M236.7 75.2M238.7 77.2M239.7 88.8M232.6 91.4M235.4 86.1M239.4 89.6M243.5 81.3M235.3 84.9M235.8 90.2M239.0 91.6M231.9 90.0M239.0 79.5M239.6 79.5M239.5 77.7M240.9 73.5M240.8 79.2M237.0 98.6M239.2 85.7M242.4 96.7M235.0 82.3M237.2 96.0M236.9 84.4M237.5 82.9M237.8 80.3M241.4 84.3M238.2 63.2M237.5 85.9M234.1 70.2M238.4 87.7M234.8 94.1M233.6 87.0M236.1 99.4M238.4 82.3M235.1 106.2M240.6 78.1M236.5 84.2M237.7 77.7M234.8 97.2M240.1 74.4M238.2 66.6M238.2 77.4M244.7 85.5M238.0 76.0M239.6 84.6M238.3 67.3M237.4 94.5M239.3 83.6M241.0 70.5M237.0 77.9M245.8 75.9M240.1 77.5M243.5 82.9M237.7 93.4M241.5 79.4M239.2 86.3M239.0 85.7M236.2 84.5M241.1 84.1M237.1 94.4M235.4 74.9M236.6 82.2M247.1 72.9M239.9 64.9M240.1 74.9M245.9 82.9M240.6 95.1M243.7 84.7M237.8 82.6M240.3 82.2M240.3 83.6M234.3 86.8M242.1 74.0M239.1 82.8M238.6 78.1M238.0 88.9M237.2 77.3M237.3 62.6M241.4 93.7M235.1 84.3M240.7 86.6M238.6 73.4M240.8 80.9M239.3 89.2M237.0 84.0M238.6 90.1M237.7 83.5M242.1 88.5M241.0 82.3M241.1 74.4M238.3 61.2M238.5 72.6M244.4 69.1M235.9 96.1M245.8 68.8M239.4 74.1M240.1 81.6M241.4 84.6M238.8 101.4M240.1 90.4M237.1 85.0M236.9 80.6M234.9 89.9M240.4 84.2M239.3 75.0M240.1 70.8M240.1 84.6M238.8 75.7M238.3 85.6M236.9 83.0M238.4 67.7M236.9 79.4M240.6 79.9M244.3 88.2M243.2 81.3M238.1 77.9M239.8 87.3M239.1 83.1M233.2 86.1M232.7 85.2M237.1 80.2M237.8 89.5M235.9 81.5M232.2 107.7M232.1 112.5M236.9 66.8M235.2 76.9M238.4 81.9M240.4 84.5M240.3 71.8M235.5 82.0M238.6 76.2M239.2 79.7M235.8 71.7M241.7 87.5M236.4 86.7M236.4 85.0M244.7 83.4M236.5 72.1M237.5 89.7M237.6 76.0M242.3 95.4M238.7 79.3M235.1 90.9M232.4 89.3M237.6 76.1M245.4 79.2M235.0 65.1M242.4 76.8M235.2 91.2M232.8 84.6M232.4 67.5M237.9 89.6M239.2 86.2M238.6 82.0M235.5 76.6M237.0 83.6M239.4 82.9M235.7 94.0M240.5 76.4M243.5 89.8M236.1 57.4M247.7 81.2M239.6 79.5M237.7 85.0M237.2 85.5M238.2 75.0M235.5 87.1M235.7 84.1M241.6 85.7M240.4 80.8M239.3 80.9M237.8 85.0M237.0 78.2M239.7 75.4M236.8 90.7M238.8 89.3M241.7 91.0M232.7 89.6M234.7 88.0M242.0 84.4M235.2 76.7M243.2 91.0M239.1 80.8M245.7 75.8M240.2 72.9M242.3 78.6M236.4 87.5M236.2 83.0M239.1 84.3M238.3 60.3M238.5 84.5" fill="none" stroke="none" marker-start="url(#mk_grey)" marker-mid="url(#mk_grey)" marker-end="url(#mk_grey)"/>
<path d="M242.8 84.9M245.1 77.4M242.4 78.8M245.9 78.9M243.6 72.8M246.1 75.8M240.5 83.1M244.7 79.9M239.5 89.0M244.0 80.9M250.0 71.2M243.4 78.8M247.8 76.6M250.0 66.6M246.3 66.8M237.5 80.7M244.2 83.8M256.3 74.4M247.1 73.0M240.2 84.0M242.3 82.0M240.3 79.7M247.7 72.4M244.5 68.9M242.2 81.3M247.4 69.3M245.3 75.7M244.0 75.1M244.0 74.0M245.1 78.4M246.1 76.8M243.4 83.4M245.3 79.8M246.5 65.8M246.2 67.6M248.9 82.6M248.1 72.1M251.6 71.4M243.6 82.8M245.1 79.4M246.7 81.3M243.9 76.5M246.2 77.9M248.1 67.1M244.8 79.5M245.6 71.2M239.6 93.4M243.8 78.2M250.4 61.9M242.5 68.4M247.6 76.1M245.1 75.7M246.3 73.9M249.7 66.6M237.8 80.4M242.3 81.8M237.8 85.9M238.6 86.2M244.6 75.9M243.8 77.9M246.3 78.9M252.5 62.7M248.2 68.3M248.6 78.4M241.2 80.6M241.1 76.2M243.9 86.0M240.5 84.8M242.4 78.4M249.0 71.9M248.1 73.2M250.0 78.0M246.1 69.8M244.1 76.1M251.8 65.0M245.9 74.3M244.4 73.7M245.1 76.7M243.0 76.4M243.8 74.0M243.0 80.7M243.0 76.7M240.4 82.4M242.0 78.6M242.0 76.7M249.8 78.6M243.1 81.4M248.9 68.4M241.9 69.1M247.9 82.3M244.7 79.9M242.5 92.3M251.9 58.2M246.8 75.2M249.6 61.5M245.5 87.8M242.4 91.2M239.7 88.3M243.0 75.1M245.1 81.1M244.4 82.6M244.5 65.7M247.3 75.3M247.5 80.1M247.8 71.9M246.0 73.9M243.8 82.5M242.8 79.1M247.3 69.1M244.8 72.2M244.1 79.3M248.6 66.4M245.1 72.2M246.4 77.0M242.0 81.0M243.9 73.2M246.5 75.3M246.4 78.4M246.2 74.8M236.6 86.6M239.8 72.1M244.4 76.6M241.8 83.1M240.8 86.9M244.7 68.3M247.1 74.2M251.2 51.3M242.1 80.3M238.3 81.8M242.0 75.4M247.3 73.2M241.7 83.0M247.6 67.2M247.7 76.5M244.9 80.6M251.1 68.6M244.3 90.7M242.3 78.1M246.0 80.9M245.3 75.5M244.6 82.6M245.3 69.2M242.3 82.0M245.5 72.2M243.0 77.0M246.9 71.4M248.1 77.0M243.9 79.4M245.0 73.1M249.1 66.7M243.3 79.4M245.5 89.5M249.5 62.7M239.7 77.8M245.3 79.8M245.1 81.8M242.3 65.4M243.2 78.0M240.8 78.4M242.3 77.5M246.6 61.9M277.8 47.5M244.8 46.5M255.6 68.7M235.9 66.3M262.0 50.5M256.7 47.2M265.4 71.3M256.2 58.4M246.7 55.6" fill="none" stroke="none" marker-start="url(#mk_blue)" marker-mid="url(#mk_blue)" marker-end="url(#mk_blue)"/>
<path d="M246.7 69.7M257.4 61.5M272.2 42.8M292.2 18.8M269.9 39.1M255.5 58.7M291.1 11.9M261.3 53.1M245.3 53.8M266.8 42.2M257.2 54.6M249.8 67.1M285.4 41.6M277.6 36.7M294.3 17.8M244.8 60.5M294.1 25.6M278.9 25.3M254.8 60.7M263.5 47.0M279.8 46.0M256.7 56.9M249.3 66.8M284.4 25.6M250.3 63.7M268.7 50.7M260.7 48.7M288.6 21.2M268.1 42.8M259.9 49.3M292.4 15.3M258.9 55.4M282.6 37.4M256.8 64.2M277.8 29.1M279.0 31.0M285.3 27.5M266.6 49.4M252.8 61.4M273.7 39.9M291.6 23.1M258.5 59.1M240.7 63.5M250.8 62.5M293.7 22.3M248.9 71.9M248.6 69.4M246.4 64.7M287.7 21.8M260.8 54.3M277.1 36.2M278.8 36.2M265.6 53.7M276.5 30.8M263.4 48.8M262.6 39.4M258.5 59.4M246.0 69.2M269.3 40.2M255.4 60.1M258.6 62.3M291.1 26.7M259.0 54.7M247.5 65.4M273.9 40.3M266.0 43.0M244.5 65.3M257.8 54.8M272.5 41.1M256.0 59.5M294.3 16.0M281.5 27.5M266.4 47.2M290.0 21.0M247.1 69.0M256.4 64.7M293.5 24.4M264.9 45.3M249.7 62.6M266.3 39.9M279.4 33.8M270.0 39.6M243.3 64.9M243.9 65.9M263.0 54.0" fill="none" stroke="none" marker-start="url(#mk_green)" marker-mid="url(#mk_green)" marker-end="url(#mk_green)"/>
<line x1="229.90" y1="93.55" x2="292.87" y2="16.30" stroke="#e94040" stroke-width="1.1"/>
<g transform="translate(252.00 23.10) scale(0.0846 0.1)"><text x="0" y="0" font-size="49.0" font-weight="normal" text-anchor="start" fill="#1a1a1a" stroke="#1a1a1a" stroke-width="1.40">Correlation R = 0.78</text></g>
<g transform="translate(200.00 9.70) scale(0.0766 0.1)"><text x="0" y="0" font-size="50.0" font-weight="normal" text-anchor="start" fill="#111" stroke="#111" stroke-width="1.30">Comparison of Odds Ratios: EUR vs HIS</text></g>
<g transform="translate(198.50 118.45) scale(0.1000 0.1)"><text x="0" y="0" font-size="26.0" font-weight="normal" text-anchor="end" fill="#555" stroke="#555" stroke-width="0.60">0.5</text></g>
<g transform="translate(204.90 126.10) scale(0.1000 0.1)"><text x="0" y="0" font-size="26.0" font-weight="normal" text-anchor="middle" fill="#555" stroke="#555" stroke-width="0.60">0.5</text></g>
<g transform="translate(198.50 84.72) scale(0.1000 0.1)"><text x="0" y="0" font-size="26.0" font-weight="normal" text-anchor="end" fill="#555" stroke="#555" stroke-width="0.60">1.0</text></g>
<g transform="translate(238.87 126.10) scale(0.1000 0.1)"><text x="0" y="0" font-size="26.0" font-weight="normal" text-anchor="middle" fill="#555" stroke="#555" stroke-width="0.60">1.0</text></g>
<g transform="translate(198.50 50.98) scale(0.1000 0.1)"><text x="0" y="0" font-size="26.0" font-weight="normal" text-anchor="end" fill="#555" stroke="#555" stroke-width="0.60">1.5</text></g>
<g transform="translate(272.83 126.10) scale(0.1000 0.1)"><text x="0" y="0" font-size="26.0" font-weight="normal" text-anchor="middle" fill="#555" stroke="#555" stroke-width="0.60">1.5</text></g>
<g transform="translate(198.50 17.25) scale(0.1000 0.1)"><text x="0" y="0" font-size="26.0" font-weight="normal" text-anchor="end" fill="#555" stroke="#555" stroke-width="0.60">2.0</text></g>
<g transform="translate(306.80 126.10) scale(0.1000 0.1)"><text x="0" y="0" font-size="26.0" font-weight="normal" text-anchor="middle" fill="#555" stroke="#555" stroke-width="0.60">2.0</text></g>
<g transform="translate(255.85 129.90) scale(0.0859 0.1)"><text x="0" y="0" font-size="39.0" font-weight="normal" text-anchor="middle" fill="#111" stroke="#111" stroke-width="0.90">Odds Ratio (EUR)</text></g>
<g transform="translate(192.60 66.90) rotate(-90) scale(0.0859 0.1)"><text x="0" y="0" font-size="39.0" font-weight="normal" text-anchor="middle" fill="#111" stroke="#111" stroke-width="0.90">Odds Ratio (HIS)</text></g>
<circle cx="318.90" cy="63.00" r="0.55" fill="#8a8a8a"/>
<g transform="translate(323.10 63.90) scale(0.0989 0.1)"><text x="0" y="0" font-size="27.0" font-weight="normal" text-anchor="start" fill="#1a1a1a" stroke="#1a1a1a" stroke-width="0.90">Not significant</text></g>
<circle cx="318.90" cy="68.00" r="0.55" fill="#3cc83c"/>
<g transform="translate(323.10 68.90) scale(0.0989 0.1)"><text x="0" y="0" font-size="27.0" font-weight="normal" text-anchor="start" fill="#1a1a1a" stroke="#1a1a1a" stroke-width="0.90">Significant in Both</text></g>
<circle cx="318.90" cy="73.00" r="0.55" fill="#2a2ae0"/>
<g transform="translate(323.10 73.90) scale(0.0989 0.1)"><text x="0" y="0" font-size="27.0" font-weight="normal" text-anchor="start" fill="#1a1a1a" stroke="#1a1a1a" stroke-width="0.90">Significant in EUR only</text></g>
<line x1="392.20" y1="11.82" x2="392.20" y2="123.58" stroke="#d6d6d6" stroke-width="0.8"/>
<line x1="370.10" y1="101.57" x2="482.30" y2="101.57" stroke="#d6d6d6" stroke-width="0.8"/>
<line x1="426.20" y1="11.82" x2="426.20" y2="123.58" stroke="#d6d6d6" stroke-width="0.8"/>
<line x1="370.10" y1="67.70" x2="482.30" y2="67.70" stroke="#d6d6d6" stroke-width="0.8"/>
<line x1="460.20" y1="11.82" x2="460.20" y2="123.58" stroke="#d6d6d6" stroke-width="0.8"/>
<line x1="370.10" y1="33.83" x2="482.30" y2="33.83" stroke="#d6d6d6" stroke-width="0.8"/>
<line x1="375.20" y1="11.82" x2="375.20" y2="123.58" stroke="#d6d6d6" stroke-width="0.9"/>
<line x1="370.10" y1="118.50" x2="482.30" y2="118.50" stroke="#d6d6d6" stroke-width="0.9"/>
<line x1="409.20" y1="11.82" x2="409.20" y2="123.58" stroke="#d6d6d6" stroke-width="0.9"/>
<line x1="370.10" y1="84.63" x2="482.30" y2="84.63" stroke="#d6d6d6" stroke-width="0.9"/>
<line x1="443.20" y1="11.82" x2="443.20" y2="123.58" stroke="#d6d6d6" stroke-width="0.9"/>
<line x1="370.10" y1="50.77" x2="482.30" y2="50.77" stroke="#d6d6d6" stroke-width="0.9"/>
<line x1="477.20" y1="11.82" x2="477.20" y2="123.58" stroke="#d6d6d6" stroke-width="0.9"/>
<line x1="370.10" y1="16.90" x2="482.30" y2="16.90" stroke="#d6d6d6" stroke-width="0.9"/>
<line x1="409.20" y1="11.82" x2="409.20" y2="123.58" stroke="#4a4a4a" stroke-width="0.5" stroke-dasharray="1.4 1.1"/>
<line x1="370.10" y1="84.63" x2="482.30" y2="84.63" stroke="#4a4a4a" stroke-width="0.5" stroke-dasharray="1.4 1.1"/>
<path d="M418.4 65.6M412.6 80.2M419.6 65.9M411.6 86.5M416.2 75.6M414.2 83.5M422.2 82.7M414.1 72.0M415.8 80.1M412.1 70.5M411.1 74.7M410.0 82.6M409.6 91.2M413.7 87.0M414.3 70.1M414.2 83.9M407.8 91.1M415.8 72.0M414.5 69.1M410.7 88.6M412.5 70.8M407.7 85.2M414.3 87.9M411.7 72.6M410.4 88.1M410.4 68.8M404.2 78.5M412.6 96.3M412.6 70.4M414.5 82.0M412.3 79.6M414.9 72.8M416.9 68.1M412.2 84.4M411.7 76.8M414.9 86.2M414.1 91.3M413.8 74.0M416.5 70.2M414.4 66.4M413.1 78.4M418.2 61.8M410.8 88.7M412.0 88.9M418.1 76.0M413.9 90.1M412.1 71.0M412.2 78.2M415.6 76.7M415.1 92.4M417.3 81.2M417.3 73.6M417.0 72.5M411.8 76.0M416.0 72.0M411.6 55.7M416.5 79.4M410.1 95.1M419.8 59.1M415.4 82.3M417.0 67.5M414.7 74.1M411.6 83.9M415.1 70.6M416.8 47.0M409.2 101.5M415.2 74.2M412.2 75.9M414.3 62.2M414.2 66.7M416.8 95.6M407.9 100.9M413.6 72.7M414.4 72.2M420.2 83.5M413.0 79.0M410.0 87.8M415.5 72.6M412.0 76.4M410.5 69.5M412.9 79.4M411.7 97.4M411.6 81.2M418.1 60.7M415.4 67.1M419.1 63.1M419.9 68.5M414.2 78.4M408.6 76.1M412.0 89.4M413.5 72.1M417.8 68.5M416.9 80.9M419.8 50.5M415.8 84.3M412.8 77.9M413.1 75.6M417.3 67.2M418.5 60.5M412.5 83.5M414.1 68.6M417.0 52.5M415.7 81.4M414.9 69.7M415.1 80.0M418.1 66.4M414.6 79.4M416.9 69.2M408.9 98.4M412.4 83.2M416.0 75.5M414.5 71.2M418.7 77.0M413.9 80.4M417.0 62.2M412.1 95.5M413.2 79.8M416.0 68.9M415.9 79.4M414.8 72.8M415.2 73.5M412.5 79.1M409.7 75.4M415.7 90.4M413.5 79.0M413.8 77.8M414.2 76.3M414.9 82.7M415.3 82.2M407.3 98.1M414.9 67.9M414.0 81.1M412.5 87.4M409.5 97.9M414.3 81.9M412.7 64.7M414.7 61.4M407.4 90.0M415.3 66.8M410.6 83.5M415.4 84.5M419.7 78.4M410.0 77.1M414.2 69.7M417.5 79.3M416.6 79.5M412.4 76.3M413.4 73.0M417.4 67.3M415.2 76.2M414.0 72.4M414.5 69.9M413.0 72.7M414.9 75.9M412.0 83.1M414.9 81.1M414.1 85.9M418.4 56.1M412.0 91.9M414.7 67.2M417.2 66.1M413.9 72.5M413.0 80.0M415.2 76.1M413.8 70.3M414.8 76.1M410.6 88.4M412.5 83.3M413.1 78.6M414.5 85.4M410.8 73.7M411.0 75.8M415.2 60.8M413.7 79.3M413.6 78.1M416.6 62.9M416.8 71.3M416.9 86.1M416.6 71.8M414.8 83.8M413.2 72.0M418.9 54.3M414.1 78.3M416.8 71.0M418.6 70.5M412.7 58.4M411.9 79.3M417.0 76.1M412.5 70.5M417.1 80.6M413.3 80.1M408.3 71.4M415.5 70.8M412.4 70.7M411.6 82.8M414.6 73.9M419.5 75.7M414.1 63.4M416.9 82.0M419.1 81.9M415.2 55.8M413.9 78.4M410.8 83.2M415.0 79.0M412.6 81.6M409.1 80.9M410.4 62.2M414.5 82.2M413.6 88.2M413.7 65.5M412.0 74.4M415.5 69.0M417.4 75.0M418.4 72.1M411.7 69.3M415.1 74.9M415.4 90.6M414.8 76.0M413.4 81.2M413.6 73.3M409.1 74.9M413.2 63.7M409.0 94.7M414.2 82.0M413.6 83.1M417.9 85.3M419.4 72.3M414.3 87.7M414.1 84.4M410.1 67.3M408.9 87.9M410.4 89.1M408.4 85.9M416.1 75.3M410.8 88.2M413.3 76.2M414.9 82.2M416.6 69.4M420.3 79.9M415.2 62.1M416.3 77.7M413.9 83.4M412.3 75.7M409.5 78.1M410.2 79.3M420.4 57.4M416.3 65.8M418.7 67.4M418.8 64.7M413.8 85.7M410.9 80.3M413.5 86.0M412.2 67.3M419.7 61.9M412.0 80.4M416.2 77.5M411.4 78.9M409.4 72.7M419.7 74.9M416.7 73.5M418.0 69.6M411.7 74.5M413.7 77.8M420.2 64.7M412.4 71.5M411.8 86.4M416.8 63.5M412.5 76.7M416.3 67.0M414.1 76.9M415.7 62.1M420.0 59.7M415.8 76.4M411.6 77.4M410.9 79.0M414.8 71.1M416.6 72.0M411.6 95.5M412.3 89.6M412.9 85.9M411.7 63.8M414.0 74.4M412.7 98.0M412.0 75.7M420.2 83.5M408.4 79.8M411.7 85.1M413.3 79.6M413.8 90.3M408.6 81.7M412.1 83.0M417.0 66.8M413.4 80.4M418.2 75.5M414.5 87.4M412.6 69.5M414.5 75.2M414.5 79.6M417.0 70.0M414.3 79.1M414.4 56.0M416.0 75.1M415.6 75.5M416.2 75.1M415.5 61.4M414.1 75.0M413.1 81.8M414.4 92.7M422.0 58.1M413.3 64.7M414.2 65.9M418.7 77.7M414.4 84.7M414.0 73.2M413.8 85.5M416.1 81.5M411.9 62.8M412.8 80.0M407.6 91.5M413.4 75.2M411.2 88.1M411.9 71.7M416.2 84.2M411.3 61.4M413.2 87.2M410.4 93.5M414.7 80.9M405.8 97.0M415.4 96.4M408.7 77.4M417.4 70.4M412.5 79.1M417.8 72.7M415.6 75.2M412.2 77.0M413.4 83.8M412.5 80.2M416.3 68.7M410.7 66.3M412.9 68.3M411.3 82.4M417.9 65.2M410.5 82.1M412.9 76.2M412.7 61.9M410.2 96.5M414.3 76.5M419.0 71.5M411.8 80.0M411.6 97.7M414.6 67.4M415.3 67.9M416.9 62.5M411.7 83.5M406.9 91.3M416.5 74.4M415.8 63.4M411.8 77.7M415.9 69.0M415.1 84.1M410.1 70.7M415.3 69.7M411.9 80.9M418.7 64.7M413.7 60.9M415.6 84.3M409.4 90.9M416.0 92.8M418.0 61.6M413.4 74.8M415.0 80.8M416.8 86.1M411.5 80.2M415.7 61.8M413.7 71.1M412.3 96.4M415.0 92.6M407.8 88.8M415.1 74.5M411.7 75.4M411.5 67.7M411.8 79.8M416.0 81.4M414.5 82.7M411.4 71.0M410.7 90.1M413.9 81.8M413.2 91.4M414.5 69.9M412.7 85.3M414.7 82.1M415.9 77.7M418.2 83.0M408.6 96.0M411.0 71.6M411.5 67.8M412.0 75.4M413.8 79.4M412.7 77.4M416.2 61.7M414.8 84.3M418.3 69.2M414.2 46.3M420.6 62.1M414.6 76.6M407.3 109.5M412.1 60.8M413.9 82.2M419.0 71.6M411.2 95.7M411.6 67.0M418.1 77.5M419.0 57.4M410.9 95.1M413.8 73.3M426.5 79.4M411.5 78.0M413.5 74.0M413.2 79.7M415.7 69.2M411.9 87.8M413.3 71.0M417.9 65.0M413.5 83.8M423.8 50.1M415.7 77.2M408.5 83.4M415.2 72.0M414.9 69.8M413.0 72.6M416.8 72.2M417.4 78.0M407.8 99.0M418.6 67.4M414.0 74.5M413.3 86.1M411.7 69.8M416.2 70.8M412.4 73.4M412.1 73.0M417.1 58.3M415.7 87.7M413.9 65.4M414.5 55.7M416.7 74.5M413.3 97.6M413.8 77.1M413.3 86.5M408.5 90.2M411.4 79.1M412.3 55.1M412.0 83.8M416.0 76.8M414.3 69.5M413.6 79.6M418.8 64.1M408.4 80.3M420.8 51.7M415.0 74.5M408.5 84.0M413.0 79.3M405.4 86.4M415.4 80.8M413.3 81.1M411.0 92.9M411.3 77.1M412.7 91.1M414.1 85.3M414.9 80.3M409.7 79.1M412.9 77.3M413.8 71.6M415.5 80.3M417.3 66.4M416.1 68.7M417.6 68.9M414.7 72.8M422.4 75.9M413.3 76.2M413.1 81.3M410.7 72.9M411.4 100.1M412.3 91.8M416.7 75.7M417.6 59.1M410.4 81.0M413.3 81.2M410.8 98.8M415.7 76.9M413.9 78.1M411.6 83.8M412.4 88.0M416.4 63.1M411.1 71.0M414.0 64.1M415.7 67.4M415.2 85.9M414.4 76.4M414.5 72.5M414.8 81.2M413.4 82.2M408.6 83.0M411.9 82.1M417.4 76.9M411.6 94.8M410.6 88.2M407.7 80.3M412.2 90.4M413.6 75.0M419.5 87.2M410.6 78.2M418.3 59.5M416.0 79.7M415.6 75.4M411.8 74.0M415.5 68.8M410.6 85.7M414.4 67.8M415.1 76.4M410.9 75.0M404.9 35.3M420.8 27.0M423.6 60.1M426.7 24.9M418.8 60.1M411.2 34.2M420.2 49.5M420.2 25.8M417.1 34.4M430.7 55.8M408.5 41.4M427.8 41.2M424.3 53.9M418.6 45.0M417.1 53.6M411.8 50.4M410.4 48.1M421.9 47.0M429.4 58.2M433.3 28.2" fill="none" stroke="none" marker-start="url(#mk_blue)" marker-mid="url(#mk_blue)" marker-end="url(#mk_blue)"/>
<path d="M407.8 86.5M408.3 98.7M407.2 71.6M407.2 43.7M407.3 88.7M408.5 101.3M409.6 84.4M408.4 74.8M404.5 90.5M407.1 85.4M407.7 71.9M408.8 56.5M407.9 75.7M408.4 82.1M407.0 73.2M409.8 79.9M407.4 85.9M406.3 92.4M407.8 63.9M410.6 79.0M406.3 38.8M408.4 71.2M408.3 79.2M409.8 85.0M408.1 77.1M408.5 71.6M408.3 75.2M408.2 64.2M406.9 85.6M406.6 88.9M408.0 83.3M407.7 114.7M408.0 72.1M408.8 94.5M406.0 96.4M407.7 97.3M408.7 75.1M406.7 82.4M406.7 93.1M405.8 86.9M408.3 83.5M408.1 86.1M405.5 101.6M409.7 97.9M407.2 71.8M407.4 70.5M408.3 64.3M408.6 90.6M406.5 96.4M408.0 103.2M407.6 85.8M409.2 89.5M407.0 89.2M409.1 69.8M405.0 78.5M408.5 93.8M409.4 84.4M408.5 103.8M409.1 92.6M408.8 85.6M405.5 96.3M407.1 98.1M408.5 92.9M408.1 64.5M407.5 101.8M409.2 93.2M408.2 80.5M405.9 88.9M406.6 93.6M407.8 80.7M407.2 96.7M406.8 67.7M407.5 95.1M407.3 91.7M409.1 79.4M407.7 115.0M407.6 83.9M407.3 87.5M407.3 74.8M407.7 86.2M407.4 82.4M407.7 70.4M407.6 80.9M407.1 93.2M407.9 97.0M406.0 98.2M408.2 81.7M408.8 98.2M407.6 84.2M407.8 63.2M410.5 93.6M407.6 96.8M406.9 77.0M408.1 85.8M406.8 56.9M408.7 85.5M406.6 83.7M407.8 80.8M409.3 77.1M408.3 67.4M406.1 79.3M407.9 86.3M407.8 90.2M408.9 92.1M407.4 63.7M407.5 80.1M408.2 69.1M407.3 83.0M406.5 82.8M406.9 75.6M407.8 79.7M407.7 70.1M406.9 74.2M407.5 77.3M407.8 82.4M405.1 70.6M405.1 78.0M405.9 71.5M406.2 95.0M405.1 45.1M407.0 82.9M407.3 109.3M407.5 77.2M407.1 66.3M407.4 84.6M410.0 79.8M407.9 80.3M406.8 92.9M406.8 69.9M407.6 94.8M409.4 89.0M408.2 119.5M406.6 76.0M408.1 91.9M407.1 71.7M408.6 101.7M407.3 64.4M408.9 105.6M409.2 87.7M407.3 85.2M409.2 90.1M405.0 63.4M409.8 97.8M406.3 89.0M407.5 84.5M407.2 85.9M406.7 92.6M405.8 75.6M407.6 87.7M408.1 66.9M408.2 85.9M408.8 79.7M411.9 70.7M407.7 71.5M408.7 90.4M407.6 76.7M405.5 106.0M410.5 69.5M405.0 64.4M407.2 73.2M408.6 75.0M407.1 94.2M406.8 107.9M408.4 119.1M409.1 83.5M406.6 77.5M407.1 78.5M408.1 75.7M407.7 100.8M407.3 83.8M410.2 68.9M407.4 87.9M407.6 114.6M404.8 91.7M408.6 79.3M407.3 93.3M408.6 97.5M407.4 101.2M407.8 58.2M407.6 79.3M407.7 103.6M405.7 75.0M409.4 79.2M405.3 65.1M405.3 102.1M408.3 72.4M406.8 76.1M407.8 100.1M406.6 83.1M408.3 83.0M406.5 81.4M407.4 112.0M407.5 82.8M406.8 90.9M407.6 73.7M406.8 83.3M407.9 94.0M406.2 98.5M408.8 88.1M409.5 81.9M407.3 86.7M407.3 97.4M408.0 67.9M408.8 71.4M407.5 84.8M408.6 82.8M408.3 78.1M407.1 83.1M405.9 90.6M403.8 62.4M410.1 87.2M406.2 90.1M409.5 84.9M408.8 88.0M407.4 83.7M407.8 52.7M407.1 92.3M408.3 78.5M407.8 75.7M408.2 99.9M407.4 88.5M407.0 105.2M407.6 98.4M407.8 103.4M406.9 83.6M406.4 95.5M403.1 64.9M405.7 89.5M408.5 89.1M407.8 91.1M410.2 97.7M409.2 70.4M406.8 97.3M407.5 70.7M408.0 87.5M408.6 102.2M408.2 84.4M408.3 93.5M408.5 91.6M409.0 65.2M408.8 74.6M408.5 116.8M407.9 91.6M406.3 88.0M408.3 90.2M407.1 67.7M409.3 96.4M409.7 94.8M406.7 84.0M410.7 64.0M409.5 104.5M409.9 89.5M406.4 88.2M408.6 79.0M409.7 55.3M407.5 76.1M407.3 92.2M407.5 92.7M409.6 84.9M407.3 76.9M405.8 74.5M405.3 93.7M408.3 66.6M407.6 98.5M408.1 74.7M406.6 78.9M407.8 95.6M406.8 72.2M409.4 103.8M409.1 98.7M409.1 80.1M408.2 70.6M406.8 75.8M408.5 94.2M409.0 67.3M408.1 53.3M409.1 81.4M407.6 84.4M409.3 104.9M408.4 102.5M408.7 99.8M408.6 98.0M407.3 102.2M406.9 70.0M406.9 83.3M408.1 119.7M406.7 80.1M406.8 76.6M407.7 95.7M410.3 93.7M408.9 114.2M405.9 73.9M408.4 110.1M408.5 96.0M407.4 74.0M404.5 99.6M406.5 81.4M408.3 75.6M409.9 105.6M408.6 71.1M406.9 113.3M407.2 92.9M408.8 116.7M408.0 82.2M409.2 91.4M405.2 82.6M407.7 90.5M407.3 69.0M405.8 92.9M407.3 77.5M406.6 95.0M406.5 70.0M408.3 104.7M408.2 96.5M408.6 81.3M407.2 72.8M404.9 88.9M408.2 62.0M407.3 62.3M409.1 107.5M407.9 83.3M408.3 84.1M406.2 78.5M407.3 75.8M409.5 90.2M407.2 69.9M407.9 110.1M407.6 75.6M406.5 107.8M407.9 100.7M408.7 75.0M408.0 95.4M407.1 77.2M410.9 87.3M408.9 81.3M407.8 91.3M410.5 65.6M408.8 62.1M406.9 83.8M409.1 88.9M408.7 94.3M406.2 94.6M405.7 99.0M408.9 101.4M408.0 87.3M408.9 71.4M409.2 91.5M407.7 76.2M406.6 80.6M407.5 102.2M407.3 77.4M408.6 86.1M409.0 55.9M407.2 64.9M408.1 89.2M407.1 88.7M407.5 65.9M408.5 104.3M407.8 57.9M407.3 71.0M407.1 89.9M409.4 86.2M409.3 97.6M407.4 99.4M408.7 69.1M406.2 81.7M406.5 79.5M407.5 55.3M405.9 81.2M405.2 95.6M407.4 72.4M407.2 79.3M409.4 92.6M404.6 104.3M406.5 79.7M408.7 90.1M408.9 97.6M410.4 99.2" fill="none" stroke="none" marker-start="url(#mk_grey)" marker-mid="url(#mk_grey)" marker-end="url(#mk_grey)"/>
<path d="M415.6 57.6M419.9 61.2M417.7 61.0M423.1 59.6M418.2 62.8M418.2 59.4M441.4 38.4M438.4 52.0M452.2 27.4M455.3 26.4M447.5 42.5M461.0 24.9M452.9 32.8M459.4 22.9M431.8 48.8M465.2 28.2M458.7 34.5M458.7 21.4M439.1 45.0M445.9 36.8M458.8 25.2M447.2 29.5M440.5 51.0M434.1 44.3M464.0 26.7M449.4 31.9M424.6 51.9M439.8 52.6" fill="none" stroke="none" marker-start="url(#mk_green)" marker-mid="url(#mk_green)" marker-end="url(#mk_green)"/>
<line x1="402.40" y1="91.07" x2="466.59" y2="17.92" stroke="#e94040" stroke-width="1.1"/>
<g transform="translate(422.80 23.90) scale(0.0846 0.1)"><text x="0" y="0" font-size="49.0" font-weight="normal" text-anchor="start" fill="#1a1a1a" stroke="#1a1a1a" stroke-width="1.40">Correlation R = 0.64</text></g>
<g transform="translate(370.30 10.30) scale(0.0766 0.1)"><text x="0" y="0" font-size="50.0" font-weight="normal" text-anchor="start" fill="#111" stroke="#111" stroke-width="1.30">Comparison of Odds Ratios: EUR vs ASN</text></g>
<g transform="translate(368.80 119.45) scale(0.1000 0.1)"><text x="0" y="0" font-size="26.0" font-weight="normal" text-anchor="end" fill="#555" stroke="#555" stroke-width="0.60">0.5</text></g>
<g transform="translate(375.20 127.10) scale(0.1000 0.1)"><text x="0" y="0" font-size="26.0" font-weight="normal" text-anchor="middle" fill="#555" stroke="#555" stroke-width="0.60">0.5</text></g>
<g transform="translate(368.80 85.58) scale(0.1000 0.1)"><text x="0" y="0" font-size="26.0" font-weight="normal" text-anchor="end" fill="#555" stroke="#555" stroke-width="0.60">1.0</text></g>
<g transform="translate(409.20 127.10) scale(0.1000 0.1)"><text x="0" y="0" font-size="26.0" font-weight="normal" text-anchor="middle" fill="#555" stroke="#555" stroke-width="0.60">1.0</text></g>
<g transform="translate(368.80 51.72) scale(0.1000 0.1)"><text x="0" y="0" font-size="26.0" font-weight="normal" text-anchor="end" fill="#555" stroke="#555" stroke-width="0.60">1.5</text></g>
<g transform="translate(443.20 127.10) scale(0.1000 0.1)"><text x="0" y="0" font-size="26.0" font-weight="normal" text-anchor="middle" fill="#555" stroke="#555" stroke-width="0.60">1.5</text></g>
<g transform="translate(368.80 17.85) scale(0.1000 0.1)"><text x="0" y="0" font-size="26.0" font-weight="normal" text-anchor="end" fill="#555" stroke="#555" stroke-width="0.60">2.0</text></g>
<g transform="translate(477.20 127.10) scale(0.1000 0.1)"><text x="0" y="0" font-size="26.0" font-weight="normal" text-anchor="middle" fill="#555" stroke="#555" stroke-width="0.60">2.0</text></g>
<g transform="translate(426.20 130.90) scale(0.0859 0.1)"><text x="0" y="0" font-size="39.0" font-weight="normal" text-anchor="middle" fill="#111" stroke="#111" stroke-width="0.90">Odds Ratio (EUR)</text></g>
<g transform="translate(362.90 67.70) rotate(-90) scale(0.0859 0.1)"><text x="0" y="0" font-size="39.0" font-weight="normal" text-anchor="middle" fill="#111" stroke="#111" stroke-width="0.90">Odds Ratio (ASN)</text></g>
<circle cx="489.40" cy="63.80" r="0.55" fill="#8a8a8a"/>
<g transform="translate(493.60 64.70) scale(0.0989 0.1)"><text x="0" y="0" font-size="27.0" font-weight="normal" text-anchor="start" fill="#1a1a1a" stroke="#1a1a1a" stroke-width="0.90">Not significant</text></g>
<circle cx="489.40" cy="68.90" r="0.55" fill="#3cc83c"/>
<g transform="translate(493.60 69.80) scale(0.0989 0.1)"><text x="0" y="0" font-size="27.0" font-weight="normal" text-anchor="start" fill="#1a1a1a" stroke="#1a1a1a" stroke-width="0.90">Significant in Both</text></g>
<circle cx="489.40" cy="74.00" r="0.55" fill="#2a2ae0"/>
<g transform="translate(493.60 74.90) scale(0.0989 0.1)"><text x="0" y="0" font-size="27.0" font-weight="normal" text-anchor="start" fill="#1a1a1a" stroke="#1a1a1a" stroke-width="0.90">Significant in EUR only</text></g>
<line x1="555.42" y1="12.34" x2="555.42" y2="123.56" stroke="#d6d6d6" stroke-width="0.8"/>
<line x1="533.42" y1="101.65" x2="645.08" y2="101.65" stroke="#d6d6d6" stroke-width="0.8"/>
<line x1="589.25" y1="12.34" x2="589.25" y2="123.56" stroke="#d6d6d6" stroke-width="0.8"/>
<line x1="533.42" y1="67.95" x2="645.08" y2="67.95" stroke="#d6d6d6" stroke-width="0.8"/>
<line x1="623.08" y1="12.34" x2="623.08" y2="123.56" stroke="#d6d6d6" stroke-width="0.8"/>
<line x1="533.42" y1="34.25" x2="645.08" y2="34.25" stroke="#d6d6d6" stroke-width="0.8"/>
<line x1="538.50" y1="12.34" x2="538.50" y2="123.56" stroke="#d6d6d6" stroke-width="0.9"/>
<line x1="533.42" y1="118.50" x2="645.08" y2="118.50" stroke="#d6d6d6" stroke-width="0.9"/>
<line x1="572.33" y1="12.34" x2="572.33" y2="123.56" stroke="#d6d6d6" stroke-width="0.9"/>
<line x1="533.42" y1="84.80" x2="645.08" y2="84.80" stroke="#d6d6d6" stroke-width="0.9"/>
<line x1="606.17" y1="12.34" x2="606.17" y2="123.56" stroke="#d6d6d6" stroke-width="0.9"/>
<line x1="533.42" y1="51.10" x2="645.08" y2="51.10" stroke="#d6d6d6" stroke-width="0.9"/>
<line x1="640.00" y1="12.34" x2="640.00" y2="123.56" stroke="#d6d6d6" stroke-width="0.9"/>
<line x1="533.42" y1="17.40" x2="645.08" y2="17.40" stroke="#d6d6d6" stroke-width="0.9"/>
<line x1="572.33" y1="12.34" x2="572.33" y2="123.56" stroke="#4a4a4a" stroke-width="0.5" stroke-dasharray="1.4 1.1"/>
<line x1="533.42" y1="84.80" x2="645.08" y2="84.80" stroke="#4a4a4a" stroke-width="0.5" stroke-dasharray="1.4 1.1"/>
<path d="M571.2 81.7M571.5 85.8M564.0 100.8M574.0 80.3M562.7 92.2M576.0 68.6M568.4 80.7M571.8 91.9M575.4 92.7M573.1 83.2M569.2 89.7M571.6 91.4M570.5 86.3M572.5 81.9M572.1 74.5M570.3 94.9M571.4 76.8M570.6 83.9M572.6 81.3M570.2 90.9M575.4 77.4M575.2 76.4M569.9 87.4M568.6 75.6M566.4 84.3M569.7 86.5M572.1 93.5M569.7 90.6M569.4 86.0M571.4 75.1M568.4 82.6M570.7 86.8M569.6 86.7M576.2 83.7M570.9 85.7M580.6 89.6M574.4 72.3M569.9 77.8M572.0 85.4M568.9 83.1M572.3 90.7M567.9 82.3M574.6 84.0M571.7 88.4M573.0 99.6M565.3 96.1M579.2 88.2M568.5 87.7M573.0 79.4M569.3 70.8M570.0 92.9M573.1 81.1M568.1 75.1M570.6 90.0M575.1 73.1M569.2 86.5M575.4 76.9M573.6 60.4M567.5 59.2M568.4 89.8M562.8 94.8M571.1 87.5M572.7 87.0M571.4 85.3M573.3 75.3M571.6 83.2M573.8 84.0M575.2 94.1M580.3 61.4M562.8 90.5M571.6 87.4M571.7 80.2M575.2 86.9M576.5 96.2M568.0 75.5M570.1 81.8M561.1 96.3M571.3 101.9M572.0 87.3M569.4 94.0M565.4 86.6M571.1 110.6M569.5 83.1M573.2 85.3M571.0 74.8M582.4 77.5M575.3 84.3M573.2 102.3M566.1 83.9M576.4 76.7M576.9 73.4M569.3 84.4M570.3 92.6M570.7 81.4M574.1 84.2M579.5 82.2M570.1 66.8M567.3 88.5M572.1 93.0M567.7 91.8M574.3 87.7M569.8 87.9M573.7 77.1M574.8 80.8M571.4 90.0M574.6 91.2M568.8 76.4M569.0 71.8M574.2 68.8M567.6 91.0M571.0 87.9M572.7 91.4M569.8 99.8M565.6 83.7M568.2 81.5M574.1 86.6M575.2 88.5M578.2 67.5M574.1 71.7M572.5 87.4M573.4 75.1M567.3 85.7M572.8 80.1M569.7 105.8M571.9 78.6M574.9 77.3M569.4 96.1M574.8 80.5M567.6 73.6M574.6 85.7M581.4 69.0M569.8 91.2M573.0 93.1M577.0 111.7M573.1 79.2M567.2 103.7M567.8 77.4M570.5 88.2M573.2 77.2M570.6 82.1M571.2 84.3M571.7 75.8M569.6 79.8M572.0 76.1M572.6 77.0M574.9 80.1M571.3 89.3M572.0 85.8M566.8 115.8M566.4 88.2M566.4 85.6M574.1 73.2M570.5 67.5M571.3 95.8M570.8 96.2M570.2 89.2M571.9 82.1M575.1 69.2M573.1 94.2M570.6 95.0M565.3 101.7M570.9 71.9M568.8 90.6M574.4 86.5M565.0 97.2M566.9 78.7M574.9 88.3M569.8 84.3M565.3 94.8M571.5 87.5M575.7 74.0M569.1 88.4M567.0 78.5M569.9 88.7M567.3 93.9M568.1 81.9M566.8 97.0M567.2 83.4M571.5 75.9M569.9 87.0M567.3 90.7M572.9 76.3M574.5 86.0M572.3 88.2M569.2 84.2M568.8 79.8M569.7 79.8M577.5 80.8M570.0 79.5M570.2 84.8M566.9 94.3M574.2 84.9M569.8 97.3M572.1 81.0M573.5 93.4M572.5 101.3M568.3 75.3M572.6 82.6M568.7 82.4M560.4 90.8M572.8 83.9M568.8 88.7M571.0 87.7M570.2 84.6M568.5 83.9M570.6 110.8M567.9 71.3M571.6 92.3M573.8 78.1M572.1 76.5M572.9 81.6M574.9 89.5M574.0 81.1M574.1 88.7M571.5 93.3M565.0 109.8M570.7 79.1M567.1 83.1M575.3 68.7M573.0 86.0M576.1 82.6M564.3 81.8M575.1 87.7M570.8 81.0M572.2 79.5M558.5 70.5M572.8 95.9M572.1 86.8M572.1 69.2M569.2 82.3M570.6 89.3M561.3 99.9M572.0 77.0M572.4 77.4M572.6 84.0M568.8 79.4M569.6 75.2M583.0 84.0M576.3 84.8M573.3 89.9M572.3 84.5M566.6 93.9M569.0 82.8M572.5 92.5M569.6 87.3M570.0 101.4M571.3 88.6M579.5 88.8M561.8 89.8M571.4 84.0M561.8 82.1M572.1 76.9M566.3 84.8M571.5 80.4M571.2 72.2M570.3 97.1M571.7 88.6M569.8 94.7M570.9 87.0M567.8 89.7M570.0 85.0M570.7 83.6M569.2 102.6M575.2 63.0M573.2 80.0M568.0 87.3M576.3 76.7M572.7 81.4M571.5 81.9M571.6 82.8M569.2 82.3M572.5 91.4M563.4 87.1M566.4 83.4M574.0 74.0M570.4 80.5M570.3 90.8M569.7 84.4M574.8 83.6M569.1 80.2M567.7 116.2M572.2 93.0M580.8 65.3M575.8 82.5M572.9 71.8M574.9 82.5M569.9 84.9M570.9 89.3M573.0 89.5M579.0 91.9M568.5 73.8M571.2 77.3M574.3 72.7M573.1 85.2M571.9 91.2M571.2 81.3M569.3 81.8M566.7 77.8M573.3 79.7M570.3 78.5M573.6 56.5M569.5 83.3M571.4 76.1M569.3 75.6M570.3 81.5M571.4 76.3M571.9 89.5M566.2 97.3M564.5 75.0M570.8 77.1M571.4 90.7M570.3 79.2M573.3 85.9M572.1 75.7M567.8 90.9M573.5 91.8M573.4 78.2M571.8 74.1M569.9 87.6M569.0 74.7M572.7 82.7M578.3 84.6M575.1 74.4M572.6 97.0M571.1 90.3M570.7 83.0M577.9 78.8M573.0 76.6M573.0 99.9M571.9 77.1M572.6 86.8M572.9 89.6M567.8 93.1M568.7 83.8M572.9 84.4M573.2 95.6M572.7 88.7M570.7 82.8M567.9 86.8M568.2 90.7M576.4 70.1M573.4 102.5M570.9 82.7M574.5 80.5M570.8 87.1M569.8 83.0M571.6 82.8M568.8 89.0M575.2 81.4M568.9 80.5M572.8 78.3M575.8 79.4M570.9 88.7M567.9 89.7M575.4 71.0M571.3 99.3M574.4 88.8M571.3 83.5M573.4 82.7M571.2 83.9M572.6 85.0M570.9 90.8M570.1 85.0M567.6 75.9M569.5 86.2M570.6 78.8M572.7 83.9M571.5 109.2M569.3 94.2M574.0 85.3M577.8 78.4M570.0 82.0M574.4 92.1M573.8 72.7M572.2 92.7M572.1 81.6M565.2 88.3M574.3 88.8M566.1 82.0M566.5 83.5M573.8 69.1M573.0 94.6M573.0 93.1M569.2 83.7M568.6 78.7M572.9 73.8M568.6 87.9M579.5 66.6M574.4 91.9M571.2 82.8M570.3 85.1M573.7 70.5M576.7 101.5M567.7 71.8M568.2 87.1M572.6 83.9M570.6 82.7M573.3 90.2M577.8 85.6M573.3 91.1M568.9 83.3M573.4 71.9M570.1 90.5M567.3 70.2M575.0 72.6M575.2 86.7M574.7 71.3M580.9 82.8M570.7 75.9M571.0 85.5M565.5 87.9M572.8 75.9M575.0 83.8M571.2 87.6M570.4 81.2M574.6 85.7M574.4 84.5M571.6 89.4M570.0 95.8M575.5 91.2M573.9 78.0M579.6 64.5M570.6 79.5M570.4 95.0M569.7 86.5M568.9 85.1M569.9 73.1M573.2 92.0M573.2 100.3M571.6 78.4M570.0 90.2M573.9 98.4M569.4 83.4M572.3 90.0M568.3 66.5M564.1 89.6M572.7 78.5M573.1 68.1M569.3 87.2M568.0 77.3M573.8 75.0M568.2 88.4M578.1 76.0M573.0 88.4M571.3 66.9M568.4 85.5M571.3 85.4M568.3 88.3M567.7 93.4M572.6 91.9M566.3 91.1M573.6 79.6M570.1 87.7M572.9 80.1M571.6 89.1M573.9 84.5M573.3 90.6M568.5 79.4M574.3 77.9M578.6 101.0M568.1 92.9M573.3 86.5M571.9 79.8M574.3 71.8M585.6 68.8M567.1 82.7M568.8 86.8M572.1 83.3M565.3 97.8M570.9 86.1M572.2 105.1M571.7 83.9M569.8 82.2M575.5 85.1M573.7 76.5M566.9 87.7M574.6 72.6M567.0 86.0M561.6 94.3M573.0 76.0M568.5 97.1M578.4 60.4M570.0 95.8M564.2 95.5M578.0 83.5M573.0 73.2M571.9 86.6M567.8 74.0M576.7 104.5M575.3 82.8M577.3 82.3M572.5 88.6M577.2 68.5M573.6 87.7M569.2 86.7M575.4 81.0M570.1 80.4M575.2 75.3M563.9 87.1M575.0 76.5M566.8 79.3M573.0 94.3M573.4 78.9M572.6 86.2M570.7 87.0M571.6 93.9M574.7 88.8M567.3 69.0M570.0 69.3M575.7 80.4M566.8 74.0M577.5 73.9M564.5 67.2M570.8 89.7M576.2 89.3M574.5 89.7M568.1 79.4M569.3 92.5M574.2 83.7M574.2 85.9M559.6 97.9M573.1 88.2M568.6 86.6M579.7 80.4M569.9 84.6M576.4 91.1M573.8 84.8M578.0 69.8M574.8 96.4M573.2 79.3M569.9 64.4M569.5 84.7M571.0 80.7M569.3 81.3M570.9 84.7M571.9 85.0M570.9 85.5M572.9 99.6M568.9 95.1M575.2 95.5M572.6 94.0M580.2 71.0M576.1 69.5M573.2 89.7M576.5 71.1M572.4 79.0M577.6 94.0M567.1 58.7M573.2 76.6M573.0 78.0M577.9 70.5M568.1 75.5M572.3 79.3M572.5 91.0M573.7 99.8M571.7 75.1M573.2 79.0M569.1 79.5M573.4 75.3M572.6 76.1M573.3 76.0M576.6 78.6M574.8 82.8M573.3 82.4M573.5 88.2M572.4 75.7M573.0 79.7M571.8 92.5M571.5 71.4M570.8 98.7M579.5 92.6M571.7 84.2M571.9 87.7M565.0 93.0M567.0 84.1M570.0 75.4M569.2 84.3M575.6 96.1M573.9 99.5M571.1 91.3M568.5 69.2M573.8 92.8M570.6 82.6M568.0 83.7M575.8 83.4M571.8 86.1M593.8 54.4M572.8 94.2M569.7 87.6M568.5 88.4M563.6 98.7M571.5 89.4M571.4 77.5M573.6 85.4M572.1 78.2M575.6 84.6M569.6 87.0M571.6 105.9M575.5 85.9M577.0 90.6M582.2 70.7M577.3 101.2M571.5 83.8M570.6 85.8M565.6 85.7M572.2 80.8M570.5 93.9M575.2 63.7M577.6 88.3M570.6 90.3M570.6 88.3M575.4 74.9M570.8 89.3M570.8 83.2M570.0 84.0M571.2 90.2M572.1 91.9M568.6 85.3M568.0 93.4M571.9 84.9M569.8 85.0M577.2 68.1M575.0 83.2M571.3 81.3M578.7 84.0M575.6 76.4M573.2 87.3M574.8 67.0M579.8 69.5M576.6 79.5M573.6 82.0M576.0 87.5M572.1 82.4M571.6 73.8M569.2 83.6M570.9 83.7M571.9 77.8M570.8 87.2M570.0 84.8M574.5 76.7M567.2 81.7M567.6 77.9M571.9 83.1M569.2 87.8M577.7 90.7M571.1 85.5M574.0 75.8M569.3 75.6M579.6 92.8M570.7 84.2M574.8 82.9M571.6 91.6M573.5 84.3M569.5 81.2M563.1 90.8M569.8 79.4M578.0 89.0M573.5 88.3M573.6 85.8M569.5 83.2M572.7 61.9M570.2 91.4M566.9 75.3M573.9 79.5M571.7 67.7M567.9 78.6M571.7 86.1M572.1 79.0M568.6 84.7M572.1 86.7M573.4 80.8M575.6 77.1M567.7 102.7M568.7 85.5M575.1 75.1M572.0 84.7M571.9 68.4M573.5 86.1M577.3 79.8M574.5 80.9M569.4 87.0M562.9 83.0M574.1 81.7M571.2 83.3M572.8 72.7M580.6 75.0M574.7 79.1M572.7 80.8M572.1 82.2M569.1 77.4M573.1 85.9M570.9 89.6M572.5 90.0M576.8 77.4M569.5 77.8M574.0 81.7M566.8 71.9M566.2 79.9M575.8 72.3M576.3 78.2M570.7 81.7M577.7 80.0M571.7 84.6M573.8 93.0M569.6 87.2M569.3 86.7M575.8 86.7M578.0 76.2M570.3 69.6M575.6 81.2M568.8 56.7M571.9 95.3M568.8 86.1M570.1 81.1M569.9 100.1M574.9 82.5M572.6 79.3M569.2 85.9M569.5 94.7M582.8 38.7M586.7 44.9M587.8 47.7" fill="none" stroke="none" marker-start="url(#mk_grey)" marker-mid="url(#mk_grey)" marker-end="url(#mk_grey)"/>
<path d="M569.5 74.8M573.9 75.1M570.2 76.7M565.0 68.4" fill="none" stroke="none" marker-start="url(#mk_red)" marker-mid="url(#mk_red)" marker-end="url(#mk_red)"/>
<path d="M580.3 85.3M581.5 74.8M579.4 83.4M576.6 79.7M582.0 74.6M577.6 75.2M586.3 77.2M577.1 76.1M579.4 80.7M579.3 79.5M579.3 77.6M578.2 79.1M582.1 81.1M580.2 84.4M576.9 86.1M582.1 83.3M581.0 86.5M576.4 89.8M582.9 75.9M574.6 86.2M578.0 74.7M579.3 77.1M585.1 82.8M584.4 72.2M577.7 89.6M579.3 80.6M577.7 71.6M580.4 79.1M582.3 86.8M577.2 88.7M574.2 78.9M574.4 89.0M583.2 76.9M581.1 77.6M575.9 94.6M581.4 85.0M587.4 74.5M582.8 77.3M577.7 87.3M579.4 89.2M576.7 88.1M576.8 85.7M578.9 77.8M577.4 78.9M580.4 72.0M586.6 76.4M572.5 95.2M581.9 83.2M579.5 84.3M579.5 85.9M579.2 89.1M569.2 97.9M583.2 70.0M583.2 88.2M584.2 75.5M580.2 84.1M576.2 76.7M580.1 77.3M585.0 74.1M576.7 84.5M581.4 80.4M578.4 83.5M581.6 77.6M582.2 74.1M573.4 85.2M580.1 75.8M578.0 83.0M575.5 90.4M573.5 96.8M582.3 88.0M579.7 78.2M581.5 80.6M577.4 85.6M584.9 85.1M574.6 79.1M587.3 78.1M586.3 89.6M581.8 82.2M577.6 84.4M574.4 87.9M578.2 95.2M578.1 88.5M578.4 78.6M579.2 80.7M578.6 84.2M576.9 80.0M574.8 88.5M583.1 81.4M582.9 72.2M581.5 75.3" fill="none" stroke="none" marker-start="url(#mk_blue)" marker-mid="url(#mk_blue)" marker-end="url(#mk_blue)"/>
<path d="M578.6 74.5M581.5 73.1M578.9 68.1M585.8 67.8M582.3 67.9M577.3 77.4M589.5 62.0M583.3 76.2M583.1 70.8M588.0 63.2M580.5 72.3M586.7 69.4M583.3 68.6M582.7 65.9M584.9 76.3M576.8 76.2M583.7 69.5M587.5 65.5M591.5 65.7M575.9 73.3M585.0 72.0M579.5 74.3M580.5 70.9M584.1 66.7M586.1 62.4M608.8 53.8M580.8 79.7M618.4 47.8M620.4 48.6M611.0 49.7M612.9 52.1M603.9 54.2M588.7 59.3M619.2 49.1M584.5 75.5M606.2 55.1M581.7 74.2M615.7 49.9M604.0 61.1M608.8 52.9M584.8 71.5M602.5 68.8M611.9 54.2M598.9 60.7M612.5 47.8M581.4 76.5M596.7 67.0M579.2 70.7M616.9 52.4M596.8 63.1M615.2 48.9M615.1 47.8M577.7 76.6M611.5 58.2M617.2 45.3M626.1 45.3M581.5 76.2M576.7 68.8M597.9 59.0M618.4 53.2M582.7 75.3M630.1 41.8M615.7 53.8M580.3 83.0M614.3 48.1M597.4 59.8M584.7 70.8M612.4 54.6M614.0 50.9M608.0 53.1M591.5 71.6M586.2 72.2M580.0 77.4M583.4 69.8M594.7 63.9M596.5 69.2M580.7 77.2M617.9 41.6M587.7 73.9M579.7 74.6M588.2 72.1M597.1 58.0M609.6 55.1M581.0 76.3M586.2 75.8M577.6 77.7M595.6 60.9M628.4 39.0M620.6 52.9M618.7 41.9" fill="none" stroke="none" marker-start="url(#mk_green)" marker-mid="url(#mk_green)" marker-end="url(#mk_green)"/>
<line x1="563.40" y1="90.33" x2="629.31" y2="43.48" stroke="#e94040" stroke-width="1.1"/>
<g transform="translate(585.90 40.80) scale(0.0846 0.1)"><text x="0" y="0" font-size="49.0" font-weight="normal" text-anchor="start" fill="#1a1a1a" stroke="#1a1a1a" stroke-width="1.40">Correlation R = 0.88</text></g>
<g transform="translate(533.62 10.80) scale(0.0766 0.1)"><text x="0" y="0" font-size="50.0" font-weight="normal" text-anchor="start" fill="#111" stroke="#111" stroke-width="1.30">Comparison of Odds Ratios: EUR vs AFR</text></g>
<g transform="translate(532.12 119.45) scale(0.1000 0.1)"><text x="0" y="0" font-size="26.0" font-weight="normal" text-anchor="end" fill="#555" stroke="#555" stroke-width="0.60">0.5</text></g>
<g transform="translate(538.50 127.10) scale(0.1000 0.1)"><text x="0" y="0" font-size="26.0" font-weight="normal" text-anchor="middle" fill="#555" stroke="#555" stroke-width="0.60">0.5</text></g>
<g transform="translate(532.12 85.75) scale(0.1000 0.1)"><text x="0" y="0" font-size="26.0" font-weight="normal" text-anchor="end" fill="#555" stroke="#555" stroke-width="0.60">1.0</text></g>
<g transform="translate(572.33 127.10) scale(0.1000 0.1)"><text x="0" y="0" font-size="26.0" font-weight="normal" text-anchor="middle" fill="#555" stroke="#555" stroke-width="0.60">1.0</text></g>
<g transform="translate(532.12 52.05) scale(0.1000 0.1)"><text x="0" y="0" font-size="26.0" font-weight="normal" text-anchor="end" fill="#555" stroke="#555" stroke-width="0.60">1.5</text></g>
<g transform="translate(606.17 127.10) scale(0.1000 0.1)"><text x="0" y="0" font-size="26.0" font-weight="normal" text-anchor="middle" fill="#555" stroke="#555" stroke-width="0.60">1.5</text></g>
<g transform="translate(532.12 18.35) scale(0.1000 0.1)"><text x="0" y="0" font-size="26.0" font-weight="normal" text-anchor="end" fill="#555" stroke="#555" stroke-width="0.60">2.0</text></g>
<g transform="translate(640.00 127.10) scale(0.1000 0.1)"><text x="0" y="0" font-size="26.0" font-weight="normal" text-anchor="middle" fill="#555" stroke="#555" stroke-width="0.60">2.0</text></g>
<g transform="translate(589.25 130.90) scale(0.0859 0.1)"><text x="0" y="0" font-size="39.0" font-weight="normal" text-anchor="middle" fill="#111" stroke="#111" stroke-width="0.90">Odds Ratio (EUR)</text></g>
<g transform="translate(526.20 67.95) rotate(-90) scale(0.0859 0.1)"><text x="0" y="0" font-size="39.0" font-weight="normal" text-anchor="middle" fill="#111" stroke="#111" stroke-width="0.90">Odds Ratio (AFR)</text></g>
<circle cx="652.60" cy="64.30" r="0.55" fill="#e03030"/>
<g transform="translate(656.80 65.20) scale(0.0989 0.1)"><text x="0" y="0" font-size="27.0" font-weight="normal" text-anchor="start" fill="#1a1a1a" stroke="#1a1a1a" stroke-width="0.90">Significant in AFR only</text></g>
<circle cx="652.60" cy="69.35" r="0.55" fill="#3cc83c"/>
<g transform="translate(656.80 70.25) scale(0.0989 0.1)"><text x="0" y="0" font-size="27.0" font-weight="normal" text-anchor="start" fill="#1a1a1a" stroke="#1a1a1a" stroke-width="0.90">Significant in Both</text></g>
<circle cx="652.60" cy="74.40" r="0.55" fill="#2a2ae0"/>
<g transform="translate(656.80 75.30) scale(0.0989 0.1)"><text x="0" y="0" font-size="27.0" font-weight="normal" text-anchor="start" fill="#1a1a1a" stroke="#1a1a1a" stroke-width="0.90">Significant in EUR only</text></g>
<line x1="225.68" y1="140.84" x2="225.68" y2="252.06" stroke="#d6d6d6" stroke-width="0.8"/>
<line x1="203.74" y1="230.15" x2="315.17" y2="230.15" stroke="#d6d6d6" stroke-width="0.8"/>
<line x1="259.45" y1="140.84" x2="259.45" y2="252.06" stroke="#d6d6d6" stroke-width="0.8"/>
<line x1="203.74" y1="196.45" x2="315.17" y2="196.45" stroke="#d6d6d6" stroke-width="0.8"/>
<line x1="293.22" y1="140.84" x2="293.22" y2="252.06" stroke="#d6d6d6" stroke-width="0.8"/>
<line x1="203.74" y1="162.75" x2="315.17" y2="162.75" stroke="#d6d6d6" stroke-width="0.8"/>
<line x1="208.80" y1="140.84" x2="208.80" y2="252.06" stroke="#d6d6d6" stroke-width="0.9"/>
<line x1="203.74" y1="247.00" x2="315.17" y2="247.00" stroke="#d6d6d6" stroke-width="0.9"/>
<line x1="242.57" y1="140.84" x2="242.57" y2="252.06" stroke="#d6d6d6" stroke-width="0.9"/>
<line x1="203.74" y1="213.30" x2="315.17" y2="213.30" stroke="#d6d6d6" stroke-width="0.9"/>
<line x1="276.33" y1="140.84" x2="276.33" y2="252.06" stroke="#d6d6d6" stroke-width="0.9"/>
<line x1="203.74" y1="179.60" x2="315.17" y2="179.60" stroke="#d6d6d6" stroke-width="0.9"/>
<line x1="310.10" y1="140.84" x2="310.10" y2="252.06" stroke="#d6d6d6" stroke-width="0.9"/>
<line x1="203.74" y1="145.90" x2="315.17" y2="145.90" stroke="#d6d6d6" stroke-width="0.9"/>
<line x1="242.57" y1="140.84" x2="242.57" y2="252.06" stroke="#4a4a4a" stroke-width="0.5" stroke-dasharray="1.4 1.1"/>
<line x1="203.74" y1="213.30" x2="315.17" y2="213.30" stroke="#4a4a4a" stroke-width="0.5" stroke-dasharray="1.4 1.1"/>
<path d="M248.3 210.9M244.9 213.0M250.1 206.1M244.6 210.5M248.2 194.8M240.2 204.5M230.2 215.8M219.3 203.1M254.2 210.3M254.5 221.3M243.5 205.2M237.4 201.2M228.9 228.3M239.3 203.8M253.4 200.9M235.2 214.9M233.6 227.1M250.6 186.8M238.8 217.3M219.0 221.2M250.3 204.2M253.2 173.9M234.7 215.0M250.6 203.3M261.3 200.8M273.8 195.4M240.1 204.3M239.7 214.8M249.8 197.9M240.1 219.6M243.9 211.4M245.4 204.8M242.9 200.6M247.9 196.1M241.6 183.1M242.1 220.0M250.8 209.4M239.7 207.1M237.0 233.1M239.5 220.8M235.5 209.6M236.3 214.3M243.9 207.9M233.9 207.0M252.6 198.8M252.4 203.0M240.8 196.7M216.4 231.2M248.0 200.0M249.3 189.2M228.5 223.6M239.5 216.3M266.8 196.6M240.5 207.7M231.3 238.2M240.4 209.8M236.9 220.3M242.8 194.2M236.7 213.4M259.0 182.6M265.9 199.0M249.2 208.5M212.8 211.7M224.6 198.4M241.9 203.9M248.6 198.3M246.9 206.5M253.1 227.5M246.3 213.6M240.3 209.8M247.2 207.3M246.5 195.8M244.2 200.5M243.4 182.1M242.1 199.7M242.0 202.8M239.7 206.4M234.1 205.0M230.5 216.5M235.4 232.9M237.4 217.9M253.2 181.2M233.1 201.3M245.0 205.3M250.1 216.8M246.0 220.7M228.7 216.3M267.3 224.3M241.2 210.7M241.2 214.4M253.6 194.0M238.3 196.1M251.0 204.9M251.4 214.4M247.8 203.8M246.6 206.2M231.3 222.3M252.1 199.2M242.0 217.5M242.3 210.8M238.8 220.4M250.0 211.9M244.6 214.2M233.6 225.2M239.2 204.7M242.6 208.8M245.3 211.1M258.4 198.6M238.8 226.2M247.0 207.7M228.8 210.0M245.5 196.1M243.4 211.7M247.9 221.5M233.9 220.4M240.1 198.3M222.3 217.6M251.9 197.5M242.2 204.2M244.7 224.0M243.6 211.0M238.3 217.5M249.1 200.8M254.9 201.1M245.3 212.1M248.1 216.1M227.2 223.6M245.0 218.7M279.0 172.1M228.9 198.1M236.6 228.7M227.3 218.3M233.9 205.0M245.3 218.2M261.7 181.9M245.6 233.5M247.4 196.4M247.0 183.7M239.4 196.5M240.7 226.6M229.9 175.7M244.7 207.8M237.2 208.9M235.4 220.7M243.8 208.2M235.4 208.8M230.9 204.9M243.9 203.3M228.0 220.6M246.0 217.0M248.4 202.5M242.2 213.7M250.5 202.6M238.2 211.2M253.9 196.2M256.8 194.1M222.2 243.2M245.8 209.1M255.5 205.9M243.6 210.2M243.1 225.8M227.6 209.5M250.3 188.6M249.9 190.0M232.7 226.6M245.6 216.9M237.6 209.3M244.5 208.6M236.6 210.8M257.6 183.5M243.2 205.2M238.8 214.4M240.5 226.9M251.1 209.2M241.3 210.3M252.8 212.7M246.2 210.8M240.8 215.8M233.8 221.4M256.3 189.5M244.5 198.3M234.9 223.1M247.6 218.3M256.1 193.2M251.3 212.2M240.7 209.8M234.0 210.7M240.5 217.0M237.7 208.7M241.1 194.6M239.8 216.6M221.5 187.5M235.5 213.4M223.7 226.6M234.1 209.4M243.8 198.6M252.4 185.2M246.1 216.7M238.0 231.6M240.8 216.6M245.1 217.3M230.6 222.2M228.7 223.7M230.4 225.3M240.9 206.6M242.1 213.5M251.9 197.9M241.2 219.9M240.6 215.3M254.2 202.6M247.3 204.9M238.1 204.5M258.7 206.7M240.9 218.3M223.2 196.7M222.5 230.6M231.2 225.7M240.5 219.8M248.8 204.9M224.2 220.3M239.4 200.9M237.9 205.6M237.6 202.1M244.2 210.0M240.8 209.1M250.5 209.3M235.9 224.9M262.6 201.3M268.4 176.5M243.5 228.5M264.6 216.0M236.8 216.2M231.3 208.6M224.0 225.0M252.4 209.0M255.6 206.6M227.8 237.5M238.8 211.3M234.4 229.7M234.9 219.1M250.2 213.5M241.1 220.5M243.3 206.0M234.3 207.0M245.2 202.8M240.7 212.3M240.0 216.5M239.9 220.8M257.3 185.3M237.1 226.6M246.7 206.1M242.1 212.3M256.1 226.4M213.8 239.6M231.7 167.1M226.7 209.5M238.6 187.7M254.8 218.5M240.0 216.8M248.0 202.7M253.7 179.4M245.3 208.8M233.4 224.2M251.6 206.9M238.0 207.0M249.4 208.4M238.3 216.1M231.8 203.7M245.5 203.4M254.7 193.2M231.7 212.3M244.4 197.6M239.1 216.6M231.8 227.6M244.2 203.0M244.7 178.2M237.6 223.9M236.8 213.5M232.0 237.0M257.8 205.4M257.9 214.0M241.4 208.0M248.3 209.3M236.5 222.0M234.3 209.2M254.3 201.1M251.4 198.6M249.9 209.0M244.7 206.0M240.1 208.7M259.0 199.4M238.8 224.0M222.5 233.9M247.1 195.1M247.5 196.9M220.6 215.7M240.3 208.4M236.2 210.4M263.0 181.2M237.4 211.6M241.9 201.1M232.7 224.6M246.9 208.8M237.1 208.3M236.7 224.8M248.9 205.8M233.7 220.8M236.3 211.9M240.2 215.1M255.8 198.5M237.9 210.1M246.4 208.1M237.1 224.2M242.6 213.5M256.9 206.6M248.0 208.3M243.4 219.3M241.1 205.0M240.7 208.2M246.0 221.9M249.8 209.4M236.1 221.5M232.8 209.5M243.3 207.9M241.2 215.2M230.4 219.5M232.9 224.4M246.8 207.7M259.2 213.3M234.8 211.1M245.1 211.9M241.1 209.8M230.1 207.3M245.4 199.4M236.5 218.3M252.3 212.0M241.9 204.7M238.6 222.5M233.8 214.3M235.0 219.0M231.9 212.0M248.0 199.8M259.5 201.6M256.4 207.2M226.0 213.3M245.5 206.9M245.7 208.4M240.7 210.1M247.1 208.8M241.0 203.7M234.8 199.0M234.5 201.9M255.6 198.7M237.9 212.5M222.0 194.7M240.7 209.9M232.6 193.1M237.0 215.2M248.4 195.9M242.7 204.5M241.2 221.0M235.4 209.3M242.8 211.5M252.9 201.4M243.9 194.9M248.0 214.8M250.2 214.9M250.6 185.6M244.0 231.1M245.8 200.8M254.2 208.8M246.0 206.5M244.4 203.5M247.5 210.4M249.4 214.6M243.9 234.3M240.3 207.7M237.7 213.8M241.7 220.1M241.4 208.4M246.8 208.0M239.5 222.2M245.4 207.4M242.6 207.8M241.4 206.9M237.0 209.8M239.1 226.2M235.2 227.6M235.5 218.5M251.4 212.7M239.0 222.1M239.8 192.3M233.7 205.7M231.2 221.4M238.2 210.0M248.9 196.9M244.0 213.0M246.9 214.9M226.0 215.9M247.4 200.2M226.1 229.4M251.6 204.7M227.2 212.2M247.4 201.2M250.0 201.8M240.8 213.1M235.6 198.2M243.7 209.4M236.8 219.2M238.0 204.7M244.4 195.0M235.9 215.3M243.1 208.9M249.4 199.4M238.5 209.9M243.4 212.1M245.7 204.8M237.1 208.1M244.5 211.3M248.9 211.3M256.7 215.4M281.0 182.3M239.5 216.0M235.7 207.8M241.5 186.5M244.3 216.6M241.7 232.1M252.4 196.7M241.2 214.3M261.0 183.9M224.5 198.1M235.4 220.4M246.6 198.9M247.6 198.9M242.5 214.1M242.8 213.1M238.9 202.9M241.0 215.9M250.3 191.1M233.3 213.0M232.1 221.8M238.6 196.3M232.5 217.4M243.0 227.3M246.0 208.7M242.3 218.9M238.1 204.7M240.8 217.7M239.6 228.7M241.4 214.1M241.0 215.8M245.2 203.4M247.7 193.3M239.7 204.9M247.3 208.4M234.6 209.8M255.0 187.2M247.5 222.8M243.4 203.5M253.6 202.2M238.3 227.8M260.1 209.4M263.2 199.8M226.0 222.3M239.9 196.8M238.0 220.3M234.3 217.8M254.0 208.8M246.7 202.9M247.9 209.1M242.8 224.7M239.7 221.7M249.6 216.1M246.1 212.0M250.4 196.9M238.2 206.8M248.1 218.5M259.3 212.3M241.8 196.7M232.7 219.1M237.8 210.9M252.0 224.4M240.6 195.6M238.3 215.5M245.4 208.7M247.2 208.7M250.7 194.7M247.4 205.3M225.9 228.2M243.2 202.2M245.2 192.7M242.1 213.1M233.3 210.5M257.0 207.9M234.3 223.5M237.5 227.4M243.5 214.1M240.3 217.2M239.0 201.5M248.2 215.9M251.5 211.1M252.9 200.1M244.6 206.1M251.8 209.1M241.3 204.7M247.4 193.0M242.4 215.5M244.7 214.9M247.5 209.7M224.8 209.8M239.9 199.8M259.6 192.5M239.6 198.1M241.9 204.1M250.7 195.2M240.2 214.2M253.3 190.4M224.4 215.1M250.3 220.2M239.5 205.9M243.8 202.2M245.7 203.1M242.1 222.0M229.0 231.2M245.2 216.9M243.4 211.0M252.5 204.7M241.5 212.7M264.6 195.2M244.4 207.6M245.0 217.0M241.6 214.0M245.6 206.3M207.2 240.7M241.3 220.8M253.0 211.4M247.9 206.0M241.1 202.4M237.6 211.1M237.8 208.3M236.2 207.7M236.0 212.2M248.3 212.6M239.5 186.4M238.8 211.7M245.6 209.9M234.7 233.9M243.6 209.2M254.0 204.4M250.3 202.6M241.0 203.4M247.0 197.4M231.0 219.6M263.0 208.9M237.1 214.6M238.9 200.4M243.7 207.0M247.2 197.6M247.1 207.8M236.0 218.6M247.1 193.8M242.4 220.9M244.2 206.6M243.3 207.3M241.8 216.0M234.6 232.3M238.0 203.2M233.9 224.1M250.3 211.9M236.6 218.3M245.7 198.6M234.4 217.5M224.4 226.4M240.5 213.8M234.4 211.0M212.2 223.3M237.9 209.6M238.7 217.7M235.0 147.4M241.8 215.9M242.6 213.3M250.0 199.1M252.7 189.2M237.1 205.3M240.7 206.8M246.6 208.2M246.3 184.6M244.7 213.3M243.8 213.6M244.3 205.0M237.6 221.3M254.9 197.6M234.9 236.2M235.9 224.9M238.8 217.6M251.5 199.1M235.9 222.2M241.2 216.3M241.8 208.1M216.0 205.0M243.2 210.2M252.8 208.1M251.9 180.0M246.8 175.9M239.0 219.9M247.3 201.8M239.3 208.2M248.7 204.3M244.8 210.5M253.7 209.7M253.6 198.6M236.5 202.3M221.2 225.4M230.9 207.7M246.3 210.6M237.4 228.1M246.6 206.6M236.2 229.8M239.9 220.5M252.2 188.5M252.4 219.9M261.8 198.3M231.9 220.0M238.8 210.6M242.6 205.6M257.2 208.1M246.1 200.6M236.0 207.3M252.0 196.5M244.8 215.0M243.3 213.4M242.8 191.6M244.3 197.2M258.1 208.3M249.3 205.5M244.8 203.7M246.5 186.9M226.2 214.4M265.4 207.8M249.4 201.6M243.4 213.8M242.1 208.7M239.6 162.1M249.0 194.6M240.7 222.2M237.1 206.8M239.0 204.8M240.1 211.6M240.2 216.2M239.0 205.7M236.9 211.1M247.8 200.9M229.7 219.2M243.0 212.5M243.9 198.9M235.3 221.5M235.9 225.2M240.9 226.9M247.3 215.4M235.6 214.3M249.8 204.9M253.9 210.8M253.9 203.2M234.3 211.9M246.0 207.2M244.9 215.9M238.9 203.9M241.6 212.3M238.5 201.8M244.9 204.4M251.0 202.6M244.2 212.5M239.6 214.0M280.8 199.7M239.8 222.0M234.0 223.9M244.2 196.2M243.7 207.8M244.0 200.1M235.1 236.1M237.6 223.1M254.9 222.9M241.4 174.1M229.6 218.7M258.0 178.4M239.5 213.8M246.8 217.6M249.8 212.3M242.3 204.5M248.3 203.6M246.2 203.3M234.4 219.8M246.7 216.2M240.4 204.9M250.5 202.5M240.2 194.1M251.1 207.5M232.6 212.3M235.4 211.3M242.1 211.9M246.5 208.1M243.2 206.5M242.6 208.6M239.6 215.4M259.3 195.5M258.0 205.9M251.3 217.2M252.3 203.6M240.1 216.9M237.0 220.4M241.9 204.7M238.4 215.4M252.2 200.4M251.8 198.0M234.1 206.1M229.0 222.9M236.4 217.6M225.2 225.3M225.3 234.0M232.7 210.5M239.8 210.7M243.0 195.8M237.7 208.7M248.8 212.1M232.8 210.9M255.2 200.9M245.9 207.7M242.5 178.1M240.5 220.1M249.6 194.4M223.1 229.8M241.4 221.6M250.7 218.3M229.1 225.8M278.8 187.1M238.2 215.1M240.7 204.3M231.3 225.0M253.5 193.6M255.1 199.6M241.7 213.7M248.6 200.1M247.5 183.2M241.7 205.6M239.8 204.4M243.2 209.0M245.1 204.0M238.1 184.6M245.4 204.2M251.4 205.1M243.1 214.2M248.6 210.2M259.2 202.9M239.9 231.0M250.2 193.9M243.7 226.0M249.6 197.0M248.7 217.8M257.3 196.7M239.2 216.1M238.6 218.3M240.5 208.3M242.1 207.6M251.2 203.1M241.9 212.9M243.4 200.7M240.4 213.8M242.3 203.1M235.5 229.8M252.4 200.9M288.9 192.0M246.5 185.4M231.5 212.7M241.4 217.5M239.5 224.6M250.8 210.3M222.1 223.6M247.2 206.4M241.4 209.4M219.5 150.6M215.5 243.0" fill="none" stroke="none" marker-start="url(#mk_grey)" marker-mid="url(#mk_grey)" marker-end="url(#mk_grey)"/>
<path d="M252.3 188.6M251.1 195.3M255.1 187.3M248.6 196.2M255.8 185.7M251.4 193.2M251.1 192.5M252.6 184.6M254.4 187.1M249.2 194.8M248.9 197.0M249.8 199.5M248.2 195.8M255.9 190.0M251.9 186.9M250.2 199.5M250.9 193.9M253.0 199.5M253.7 190.3M251.4 194.5M252.3 191.2M252.4 177.9M249.0 196.6M252.8 189.4M245.0 202.3M253.9 194.2M252.3 194.0M252.4 198.2M252.0 191.9M251.3 189.9M256.4 188.0M251.5 190.7M253.7 191.8M250.1 197.0M253.0 190.2M251.6 191.4M253.1 194.2M253.7 190.8M250.7 194.7M254.1 188.9M249.7 193.9M248.4 193.0M250.9 192.7M254.4 192.0M251.1 193.2M251.2 194.6M254.1 191.8M251.9 191.2M255.5 200.0M249.1 195.4M248.9 199.2M251.5 196.7M251.4 192.2M255.6 187.9M253.8 194.8M254.4 194.2M251.7 194.0M254.7 190.7M256.7 191.8M252.7 190.9M266.2 167.7M256.1 181.4M245.4 186.7M264.4 170.7M252.8 187.8M253.2 182.0M251.8 187.5M265.3 167.9M262.0 159.5M274.8 150.4M254.6 179.1M271.3 155.3M264.6 165.5M253.1 191.2M256.2 173.1M274.9 149.4M264.4 157.3M269.0 163.5M268.1 161.2M272.1 149.0M262.5 167.1M254.4 185.0M251.0 187.8M266.8 167.9M253.7 182.2M279.4 154.6M273.3 148.7M260.1 164.1M262.4 162.9M250.5 183.0M270.7 156.5M258.8 171.2M269.2 158.8M260.3 172.0M269.7 156.4M260.9 189.7M271.4 147.6M265.3 160.4M255.9 174.1M262.0 174.0M253.0 179.7M260.9 167.7M277.3 155.7M265.7 172.5M257.5 175.8M262.6 171.4M259.8 172.4M261.6 173.0M258.5 165.9M272.1 162.5" fill="none" stroke="none" marker-start="url(#mk_green)" marker-mid="url(#mk_green)" marker-end="url(#mk_green)"/>
<path d="M246.0 198.7M246.8 198.7M245.3 195.2M250.5 194.2M251.8 192.3M247.9 192.2M249.3 190.5M247.6 190.3M245.7 200.6M249.0 194.7" fill="none" stroke="none" marker-start="url(#mk_red)" marker-mid="url(#mk_red)" marker-end="url(#mk_red)"/>
<path d="M260.9 191.2M258.5 194.5M264.0 193.0M261.7 190.4M264.3 194.6M262.0 196.4M261.4 192.3M256.9 190.1M266.7 192.1M263.9 190.2" fill="none" stroke="none" marker-start="url(#mk_blue)" marker-mid="url(#mk_blue)" marker-end="url(#mk_blue)"/>
<line x1="219.13" y1="232.58" x2="283.22" y2="172.05" stroke="#e94040" stroke-width="1.1"/>
<g transform="translate(242.70 152.50) scale(0.0846 0.1)"><text x="0" y="0" font-size="49.0" font-weight="normal" text-anchor="start" fill="#1a1a1a" stroke="#1a1a1a" stroke-width="1.40">Correlation R = 0.58</text></g>
<g transform="translate(203.94 139.30) scale(0.0766 0.1)"><text x="0" y="0" font-size="50.0" font-weight="normal" text-anchor="start" fill="#111" stroke="#111" stroke-width="1.30">Comparison of Odds Ratios: AFR vs HIS</text></g>
<g transform="translate(202.44 247.95) scale(0.1000 0.1)"><text x="0" y="0" font-size="26.0" font-weight="normal" text-anchor="end" fill="#555" stroke="#555" stroke-width="0.60">0.5</text></g>
<g transform="translate(208.80 255.60) scale(0.1000 0.1)"><text x="0" y="0" font-size="26.0" font-weight="normal" text-anchor="middle" fill="#555" stroke="#555" stroke-width="0.60">0.5</text></g>
<g transform="translate(202.44 214.25) scale(0.1000 0.1)"><text x="0" y="0" font-size="26.0" font-weight="normal" text-anchor="end" fill="#555" stroke="#555" stroke-width="0.60">1.0</text></g>
<g transform="translate(242.57 255.60) scale(0.1000 0.1)"><text x="0" y="0" font-size="26.0" font-weight="normal" text-anchor="middle" fill="#555" stroke="#555" stroke-width="0.60">1.0</text></g>
<g transform="translate(202.44 180.55) scale(0.1000 0.1)"><text x="0" y="0" font-size="26.0" font-weight="normal" text-anchor="end" fill="#555" stroke="#555" stroke-width="0.60">1.5</text></g>
<g transform="translate(276.33 255.60) scale(0.1000 0.1)"><text x="0" y="0" font-size="26.0" font-weight="normal" text-anchor="middle" fill="#555" stroke="#555" stroke-width="0.60">1.5</text></g>
<g transform="translate(202.44 146.85) scale(0.1000 0.1)"><text x="0" y="0" font-size="26.0" font-weight="normal" text-anchor="end" fill="#555" stroke="#555" stroke-width="0.60">2.0</text></g>
<g transform="translate(310.10 255.60) scale(0.1000 0.1)"><text x="0" y="0" font-size="26.0" font-weight="normal" text-anchor="middle" fill="#555" stroke="#555" stroke-width="0.60">2.0</text></g>
<g transform="translate(259.45 259.40) scale(0.0859 0.1)"><text x="0" y="0" font-size="39.0" font-weight="normal" text-anchor="middle" fill="#111" stroke="#111" stroke-width="0.90">Odds Ratio (AFR)</text></g>
<g transform="translate(196.50 196.45) rotate(-90) scale(0.0859 0.1)"><text x="0" y="0" font-size="39.0" font-weight="normal" text-anchor="middle" fill="#111" stroke="#111" stroke-width="0.90">Odds Ratio (HIS)</text></g>
<circle cx="322.80" cy="190.10" r="0.55" fill="#8a8a8a"/>
<g transform="translate(327.00 191.00) scale(0.0989 0.1)"><text x="0" y="0" font-size="27.0" font-weight="normal" text-anchor="start" fill="#1a1a1a" stroke="#1a1a1a" stroke-width="0.90">Not significant</text></g>
<circle cx="322.80" cy="195.07" r="0.55" fill="#2a2ae0"/>
<g transform="translate(327.00 195.97) scale(0.0989 0.1)"><text x="0" y="0" font-size="27.0" font-weight="normal" text-anchor="start" fill="#1a1a1a" stroke="#1a1a1a" stroke-width="0.90">Significant in AFR only</text></g>
<circle cx="322.80" cy="200.04" r="0.55" fill="#3cc83c"/>
<g transform="translate(327.00 200.94) scale(0.0989 0.1)"><text x="0" y="0" font-size="27.0" font-weight="normal" text-anchor="start" fill="#1a1a1a" stroke="#1a1a1a" stroke-width="0.90">Significant in Both</text></g>
<circle cx="322.80" cy="205.01" r="0.55" fill="#e03030"/>
<g transform="translate(327.00 205.91) scale(0.0989 0.1)"><text x="0" y="0" font-size="27.0" font-weight="normal" text-anchor="start" fill="#1a1a1a" stroke="#1a1a1a" stroke-width="0.90">Significant in HIS only</text></g>
<line x1="388.90" y1="139.13" x2="388.90" y2="250.67" stroke="#d6d6d6" stroke-width="0.8"/>
<line x1="366.80" y1="228.70" x2="479.00" y2="228.70" stroke="#d6d6d6" stroke-width="0.8"/>
<line x1="422.90" y1="139.13" x2="422.90" y2="250.67" stroke="#d6d6d6" stroke-width="0.8"/>
<line x1="366.80" y1="194.90" x2="479.00" y2="194.90" stroke="#d6d6d6" stroke-width="0.8"/>
<line x1="456.90" y1="139.13" x2="456.90" y2="250.67" stroke="#d6d6d6" stroke-width="0.8"/>
<line x1="366.80" y1="161.10" x2="479.00" y2="161.10" stroke="#d6d6d6" stroke-width="0.8"/>
<line x1="371.90" y1="139.13" x2="371.90" y2="250.67" stroke="#d6d6d6" stroke-width="0.9"/>
<line x1="366.80" y1="245.60" x2="479.00" y2="245.60" stroke="#d6d6d6" stroke-width="0.9"/>
<line x1="405.90" y1="139.13" x2="405.90" y2="250.67" stroke="#d6d6d6" stroke-width="0.9"/>
<line x1="366.80" y1="211.80" x2="479.00" y2="211.80" stroke="#d6d6d6" stroke-width="0.9"/>
<line x1="439.90" y1="139.13" x2="439.90" y2="250.67" stroke="#d6d6d6" stroke-width="0.9"/>
<line x1="366.80" y1="178.00" x2="479.00" y2="178.00" stroke="#d6d6d6" stroke-width="0.9"/>
<line x1="473.90" y1="139.13" x2="473.90" y2="250.67" stroke="#d6d6d6" stroke-width="0.9"/>
<line x1="366.80" y1="144.20" x2="479.00" y2="144.20" stroke="#d6d6d6" stroke-width="0.9"/>
<line x1="405.90" y1="139.13" x2="405.90" y2="250.67" stroke="#4a4a4a" stroke-width="0.5" stroke-dasharray="1.4 1.1"/>
<line x1="366.80" y1="211.80" x2="479.00" y2="211.80" stroke="#4a4a4a" stroke-width="0.5" stroke-dasharray="1.4 1.1"/>
<path d="M411.9 208.9M405.2 216.6M418.7 211.8M381.8 214.7M398.8 214.2M429.3 202.9M411.4 209.6M419.1 211.0M424.8 209.0M406.3 213.5M421.0 215.4M417.3 208.7M413.5 208.6M427.6 210.0M415.7 211.7M400.3 218.5M400.9 211.2M409.8 211.4M411.7 210.4M409.6 213.3M408.3 210.1M403.3 212.5M406.9 213.8M417.9 216.8M411.5 209.7M414.9 213.4M400.4 212.6M407.7 210.7M400.1 213.1M419.6 206.4M409.5 213.6M407.1 209.0M427.9 206.2M410.7 208.3M404.2 212.7M398.5 210.9M413.9 210.8M418.6 207.5M427.8 210.1M436.5 207.1M447.4 210.8M405.6 213.5M415.8 213.5M417.6 216.2M406.1 210.4M399.7 213.1M389.8 212.7M396.3 212.3M409.7 213.8M428.1 208.7M410.7 207.0M435.2 206.6M429.7 209.4M419.4 209.9M410.0 209.8M406.8 210.3M392.6 212.5M411.1 208.7M411.1 210.7M413.8 212.9M441.5 206.5M425.0 208.0M379.8 219.9M400.0 213.2M404.7 215.3M409.7 211.6M386.2 207.8M406.6 213.0M375.8 216.2M410.3 211.6M402.1 210.4M418.0 211.1M388.2 210.8M404.6 211.8M412.1 209.3M417.9 210.4M415.0 212.5M409.6 211.8M418.3 210.9M409.0 213.2M417.9 211.1M403.4 210.6M408.1 212.5M409.4 204.9M397.4 215.9M410.5 213.0M416.6 216.7M409.8 216.4M413.8 209.1M396.8 215.7M419.2 212.3M426.5 211.5M413.4 214.0M401.8 212.9M416.5 206.1M399.9 212.8M394.4 211.5M416.0 210.5M417.0 215.4M391.2 211.1M428.1 208.1M433.3 205.8M410.6 212.5M395.7 213.5M412.0 209.8M413.9 208.7M409.6 210.4M403.3 211.0M423.0 204.9M411.1 207.6M422.1 211.4M412.5 208.7M415.4 210.0M437.3 210.1M407.5 212.3M434.7 207.4M422.7 204.7M411.4 206.0M398.5 211.6M417.2 211.2M405.0 216.9M401.3 214.9M412.9 216.7M403.9 210.6M406.5 211.5M414.4 210.8M395.4 214.5M401.2 210.4M412.6 210.8M407.9 213.0M386.8 215.4M387.8 211.7M430.4 208.8M396.0 211.3M419.5 210.1M431.5 212.9M412.0 211.2M390.8 213.2M383.8 220.9M427.0 211.1M395.1 215.9M427.3 209.8M395.7 217.5M412.4 214.0M393.2 212.2M406.3 212.3M412.8 211.0M417.2 212.9M428.1 209.5M418.2 208.9M428.6 208.5M405.7 210.5M414.6 216.3M418.9 208.4M413.9 212.4M416.8 211.1M412.4 214.5M417.1 208.3M396.7 213.6M417.7 206.4M412.1 214.1M411.9 208.7M382.8 216.8M403.2 213.4M396.3 212.8M406.8 214.7M413.1 212.0M449.6 205.1M410.1 212.4M414.2 211.2M407.0 215.8M408.6 211.7M410.0 215.0M412.8 215.9M405.8 209.5M401.5 213.5M417.3 212.4M406.3 213.7M419.3 218.7M418.1 212.3M417.3 207.3M427.3 213.0M404.5 214.3M412.3 211.0M409.9 213.6M400.3 209.9M422.0 211.0M394.7 214.3M420.9 211.4M403.1 214.3M407.5 211.4M418.1 209.3M403.3 210.7M398.5 217.0M398.3 211.7M398.7 215.1M400.1 212.2M431.6 204.2M422.4 213.5M404.9 214.0M403.9 213.3M406.0 210.2M410.0 209.7M400.4 214.9M401.1 211.6M407.8 209.2M382.3 212.6M435.2 207.2M411.8 212.3M404.2 213.6M390.3 213.5M409.2 209.5M398.6 209.9M401.8 212.8M409.1 215.9M426.3 207.4M412.9 207.5M388.5 217.4M405.0 205.1M418.1 209.9M411.9 212.0M412.6 211.5M400.8 214.8M404.6 213.9M405.3 211.8M416.8 210.7M423.0 213.2M401.0 215.7M402.4 210.9M416.8 208.2M392.9 218.8M404.4 211.5M424.7 207.5M401.5 214.4M429.3 208.6M417.3 214.2M416.2 218.0M413.8 207.3M445.7 206.3M421.8 211.4M423.7 208.1M410.1 213.5M426.0 210.9M400.0 215.1M404.8 211.6M436.2 205.6M409.4 204.3M372.6 217.3M412.2 214.3M428.6 207.3M413.9 212.6M411.9 209.6M399.2 213.1M412.5 211.1M382.6 220.7M430.2 207.6M408.3 209.9M393.6 209.0M421.6 208.5M412.0 209.4M407.2 209.9M419.6 210.1M415.6 211.7M414.5 213.3M396.6 212.7M399.7 214.9M434.4 210.4M411.4 209.4M400.3 210.8M389.5 212.3M408.7 213.5M401.0 214.1M422.1 208.4M406.1 209.7M419.8 207.1M406.5 212.5M422.9 213.9M427.4 205.9M427.7 207.9M413.8 213.2M415.4 211.3M398.1 211.7M410.1 216.1M439.0 201.8M421.7 214.0M387.0 220.7M404.1 211.1M407.1 210.2M435.9 213.1M412.6 211.4M410.9 209.8M430.2 220.6M406.0 212.7M397.9 207.5M408.3 210.3M420.7 208.1M404.4 211.6M400.1 215.4M400.8 211.4M388.6 219.3M410.2 205.5M416.0 212.3M387.2 208.3M408.6 213.6M421.3 211.9M417.3 212.3M408.1 211.9M400.5 212.8M420.8 209.1M406.1 214.0M413.2 210.5M408.9 212.2M399.0 210.2M413.0 211.4M423.8 210.5M401.4 209.9M406.4 212.5M421.7 209.6M421.5 210.1M409.8 213.6M406.4 212.7M403.9 213.5M405.8 209.9M407.6 210.3M416.2 211.7M446.4 207.9M425.6 209.5M428.9 211.1M408.2 210.7M431.9 210.2M408.9 217.2M418.5 209.7M407.4 211.2M396.4 213.1M399.3 217.7M378.6 216.3M417.8 206.8M399.4 209.8M418.3 210.0M402.2 215.3M411.6 212.0M414.5 213.4M430.8 207.8M407.3 209.9M410.8 213.2M436.4 208.2M412.8 206.9M372.0 211.2M425.3 214.6M413.4 213.9M397.4 213.1M414.3 211.3M394.0 216.2M402.9 216.7M414.8 214.2M402.8 211.9M388.2 211.9M419.4 214.6M418.0 211.7M413.8 213.7M392.3 210.9M413.7 212.7M412.2 211.6M410.7 215.9M417.1 216.6M408.9 209.4M431.6 208.5M422.4 213.1M390.0 212.4M404.8 213.4M406.0 212.7M404.0 215.0M410.7 212.5M424.5 206.4M398.4 215.5M425.2 211.5M417.4 212.0M444.3 211.4M408.9 210.8M429.1 209.5M421.7 212.8M413.3 212.8M400.9 211.1M413.7 212.9M388.0 210.0M405.7 212.6M372.3 205.8M417.1 205.5M411.5 208.9M419.8 210.3M414.9 211.1M395.7 216.1M412.5 210.5M413.7 207.6M432.6 200.8M418.0 208.3M383.9 213.2M433.3 210.1M409.0 210.7M398.8 210.6M395.3 215.5M395.2 219.0M408.3 214.8M428.8 207.5M410.0 209.6M440.1 212.7M411.9 213.8M409.3 213.3M413.4 213.5M390.1 215.2M427.2 207.7M401.5 212.1M407.5 213.0M413.5 219.8M433.5 212.6M405.0 208.6M411.9 212.2M389.3 215.6M402.1 211.7M429.1 208.6M407.1 215.9M425.6 213.7M372.2 205.1M399.8 208.7M421.8 207.8M379.3 210.6M419.2 208.5M411.2 208.6M420.6 210.5M417.2 209.7M411.2 208.0M403.7 211.9M411.1 213.2M409.6 209.6M408.4 211.3M410.6 212.0M419.5 215.7M397.0 210.9M427.0 202.6M423.6 207.7M406.8 211.4M394.6 211.2M409.9 215.0M430.0 208.7M394.7 212.0M410.3 210.5M391.6 205.3M420.7 208.4M407.1 213.8M423.2 206.8M403.2 213.5M408.7 210.0M407.9 207.1M414.6 213.9M411.8 214.2M414.0 208.2M391.4 212.7M407.2 214.9M423.2 209.2M408.0 213.5M413.4 208.7M396.0 213.3M407.0 209.3M403.9 211.7M427.9 213.4M428.7 213.9M410.0 211.1M421.8 209.1M404.6 212.6M429.9 205.3M388.6 216.2M388.8 214.2M417.3 211.7M434.7 209.7M432.4 205.8M406.8 215.2M400.8 218.8M408.0 210.9M409.4 214.9M411.3 212.1M409.2 209.5M395.3 210.9M420.0 212.9M409.4 210.5M433.0 210.4M382.5 219.0M418.8 212.4M403.8 212.7M413.8 214.6M400.7 212.9M419.8 210.5M401.9 216.0M426.2 212.0M425.3 219.9M422.4 205.5M413.8 208.7M446.9 207.6M385.3 209.3M417.5 213.3M406.6 214.5M413.9 214.6M409.3 211.9M383.5 213.8M418.7 211.0M433.6 208.8M412.2 210.6M397.4 219.0M404.8 210.2M422.8 206.0M417.1 205.6M401.8 210.8M403.6 208.2M421.3 212.2M428.1 208.6M417.5 209.2M402.8 216.1M398.1 212.4M407.4 211.0M410.4 211.7M393.3 217.0M431.7 211.9M388.7 215.7M389.8 221.0M420.3 211.8M404.2 207.4M412.8 214.2M397.5 208.9M442.2 206.4M403.2 216.7M416.9 210.1M409.7 212.4M426.0 209.1M417.1 210.8M421.1 209.7M400.1 212.4M402.1 216.3M405.2 211.8M415.1 211.5M457.2 205.8M414.7 215.8M405.5 213.5M406.6 212.8M403.8 212.3M412.5 210.6M400.1 218.8M409.9 213.6M426.4 205.8M398.1 215.9M434.5 205.2M415.6 211.7M436.1 209.0M390.4 215.8M411.0 207.3M396.4 209.2M404.0 210.3M431.8 211.3M426.7 205.2M408.4 212.2M421.6 213.4M434.8 204.7M411.4 211.4M429.5 209.6M405.4 212.6M403.9 214.3M405.1 209.8M403.5 211.7M411.5 213.9M403.7 213.5M419.2 209.2M436.1 210.5M398.8 210.5M414.5 211.1M404.0 212.7M419.9 209.5M407.8 211.8M386.2 213.4M416.8 210.5M380.1 217.7M413.0 213.1M406.4 215.1M405.0 210.7M416.2 212.4M423.2 210.1M422.9 211.7M416.4 213.0M393.4 207.7M431.7 210.8M407.5 214.5M417.2 210.4M396.4 211.2M413.4 211.1M414.6 211.7M423.9 214.2M417.4 206.8M404.4 215.4M412.0 212.8M406.4 215.4M398.1 213.8M403.0 210.6M432.5 209.6M390.6 214.1M401.1 212.2M417.1 210.2M393.0 209.8M394.5 216.1M402.0 215.5M411.2 212.0M404.4 211.9M390.3 216.2M401.0 212.1M410.3 214.0M404.0 211.9M398.8 213.3M412.6 210.7M404.6 210.9M390.8 215.4M384.5 222.7M401.1 214.5M391.4 215.7M398.1 215.5M423.0 208.4M399.7 214.8M372.3 217.4M390.3 216.8M421.2 210.2M420.2 209.6M432.2 208.8M416.5 213.2M407.0 212.8M414.6 209.5M406.6 211.4M385.0 215.1M395.7 215.0M394.7 211.0M414.8 213.7M429.9 212.3M404.4 212.7M414.2 209.9M402.0 209.8M417.8 209.4M399.9 215.8M408.5 214.7M412.6 210.5M429.6 211.4M424.6 209.7M418.7 209.8M423.8 211.8M401.2 211.9M407.7 212.2M397.7 210.0M413.0 212.6M421.4 206.5M421.9 213.8M407.3 210.2M429.0 209.9M443.6 211.0M389.0 213.9M414.8 211.0M405.5 212.7M423.1 212.8M379.9 217.8M393.1 215.9M393.8 212.0M412.6 204.9M420.5 211.1M420.2 212.4M414.9 213.7M414.4 206.4M437.3 212.4M422.7 211.5M399.9 211.6M405.7 212.0M369.1 220.7M431.1 209.3M407.7 212.6M430.9 215.6M415.3 213.7M418.9 214.5M394.8 212.6M388.2 215.7M409.4 212.4M409.8 212.4M412.6 216.3M413.4 209.5M428.8 210.2M400.7 209.0M410.7 210.8M390.8 211.3M418.8 213.0M392.4 213.2M415.7 211.6M404.8 213.1M412.6 212.0M421.6 207.6M389.0 209.3M412.4 211.1M402.8 210.7M438.5 207.2M426.2 210.1M416.7 207.3M404.7 212.5M393.8 213.9M422.9 210.9M417.6 210.7M398.1 213.6M410.6 208.9M406.0 209.8M408.8 214.9M432.3 215.5M398.7 212.3M417.1 213.8M406.3 212.5M407.1 213.8M424.7 205.7M421.2 210.5M396.8 217.1M400.3 212.8M412.9 210.3M424.3 215.2M375.1 217.1M399.5 210.5M405.7 211.0M403.7 209.9M402.7 209.1M415.7 212.7M409.1 211.2M402.3 207.6M400.7 212.8M382.6 214.2M405.3 211.1M414.4 214.0M408.2 212.9M422.0 210.0M412.7 213.0M437.6 209.0M392.9 212.1M395.1 213.7M395.6 215.4M415.5 209.8M425.6 209.8M406.9 209.1M418.0 209.8M423.1 212.4M448.8 209.8M395.6 212.2M407.2 205.9M403.8 215.5M414.0 211.5M389.6 216.6M402.7 209.5M418.3 210.6M440.3 207.8M439.7 209.2M389.5 213.3M409.3 211.5M388.3 213.3M397.8 214.3M414.9 213.5M412.4 213.3M396.8 211.7M411.5 212.9M451.3 208.5M406.7 210.9M451.2 213.1M408.4 214.4M413.5 212.9M405.3 215.5M419.9 207.1M406.5 215.2M401.2 211.8M422.3 208.3M402.9 212.9M399.2 215.8M394.0 214.5M418.7 211.8M396.5 214.7M413.4 212.6M416.5 209.4M387.7 211.8M401.9 210.5M413.3 212.3M419.8 208.1M417.3 213.9M417.6 210.4M417.5 210.8M408.0 209.4M427.5 208.8M417.4 211.8M387.9 212.8M413.4 210.5M409.8 209.7M417.3 209.3M412.1 211.5M411.4 212.7M408.4 209.7M419.0 211.8M406.1 213.9M395.0 211.2M445.2 209.5M419.9 209.0M396.5 216.9M418.3 211.0M416.3 208.3M399.0 211.8M392.8 211.0M410.9 212.8M416.0 209.7M401.6 210.9M416.0 212.5M407.1 209.8M404.2 211.8M422.0 209.0M402.5 215.4M390.2 216.3M387.8 215.4M408.0 214.0M417.4 208.9M412.8 212.4M392.1 211.1M408.0 211.5M393.1 214.1M404.7 211.3M430.3 214.8M408.1 209.9M407.9 213.1M419.4 208.1M416.0 217.1M401.1 212.2M403.3 209.2M393.9 212.4M412.1 215.7M405.7 212.7M393.0 210.6M403.2 209.0M410.6 211.8M418.5 211.4M406.6 209.3M419.7 208.4M412.7 211.4M394.9 207.9M395.5 213.6M418.3 210.9M410.2 211.1M429.8 202.1M420.3 208.5M407.8 214.4M409.1 211.8" fill="none" stroke="none" marker-start="url(#mk_grey)" marker-mid="url(#mk_grey)" marker-end="url(#mk_grey)"/>
<path d="M400.5 205.2M434.3 198.4M405.6 203.6M414.4 199.9M401.6 202.7M400.0 203.7M396.0 209.2M408.2 202.7M417.9 206.2M406.9 204.3M430.1 202.7M421.3 201.6M429.2 203.7M414.2 203.0M397.1 206.2M409.8 198.2M420.6 199.1M415.4 202.5M401.3 207.4M426.1 206.6M419.7 199.2M421.3 199.5M426.8 197.8M420.2 203.5M400.6 204.6M412.4 202.7M410.9 202.9M432.0 199.7M413.3 201.8M420.6 196.6M426.8 200.9M416.8 205.7M431.7 198.6M411.2 202.8M436.7 200.8M415.9 200.8M405.4 202.6M407.5 198.7M444.3 196.1M423.5 200.2M416.9 205.5M428.7 199.7M420.5 199.9M422.3 195.4M420.9 195.8M427.0 199.5M406.8 207.7M429.4 199.7M405.6 199.9M412.3 200.0M404.9 194.1M447.4 195.1M419.9 203.5M420.7 202.5M429.7 180.6M428.9 189.9M417.3 187.2M405.7 194.4M458.9 200.4M414.5 201.1M443.8 192.8M403.0 200.1M441.7 186.4M436.7 191.6M438.3 181.8M434.5 202.6M391.5 201.6M427.9 201.9M405.9 191.0M409.2 200.4M439.1 187.8M436.2 184.7M446.9 191.6M420.2 203.9M419.3 195.7" fill="none" stroke="none" marker-start="url(#mk_red)" marker-mid="url(#mk_red)" marker-end="url(#mk_red)"/>
<path d="M437.9 193.1M439.3 192.0M438.4 193.5M435.0 195.9M434.4 197.3M435.8 195.1M427.9 201.9M432.1 196.1M433.5 191.5M432.4 198.2M465.8 175.2M472.0 170.1M474.0 172.2M465.7 175.9M469.3 173.6M457.4 180.9M474.2 171.9M463.2 175.5" fill="none" stroke="none" marker-start="url(#mk_green)" marker-mid="url(#mk_green)" marker-end="url(#mk_green)"/>
<line x1="371.90" y1="217.68" x2="473.90" y2="193.21" stroke="#e94040" stroke-width="1.1"/>
<g transform="translate(417.90 153.90) scale(0.0846 0.1)"><text x="0" y="0" font-size="49.0" font-weight="normal" text-anchor="start" fill="#1a1a1a" stroke="#1a1a1a" stroke-width="1.40">Correlation R = 0.58</text></g>
<g transform="translate(367.00 137.60) scale(0.0766 0.1)"><text x="0" y="0" font-size="50.0" font-weight="normal" text-anchor="start" fill="#111" stroke="#111" stroke-width="1.30">Comparison of Odds Ratios: ASN vs AFR</text></g>
<g transform="translate(365.50 246.55) scale(0.1000 0.1)"><text x="0" y="0" font-size="26.0" font-weight="normal" text-anchor="end" fill="#555" stroke="#555" stroke-width="0.60">0.5</text></g>
<g transform="translate(371.90 254.20) scale(0.1000 0.1)"><text x="0" y="0" font-size="26.0" font-weight="normal" text-anchor="middle" fill="#555" stroke="#555" stroke-width="0.60">0.5</text></g>
<g transform="translate(365.50 212.75) scale(0.1000 0.1)"><text x="0" y="0" font-size="26.0" font-weight="normal" text-anchor="end" fill="#555" stroke="#555" stroke-width="0.60">1.0</text></g>
<g transform="translate(405.90 254.20) scale(0.1000 0.1)"><text x="0" y="0" font-size="26.0" font-weight="normal" text-anchor="middle" fill="#555" stroke="#555" stroke-width="0.60">1.0</text></g>
<g transform="translate(365.50 178.95) scale(0.1000 0.1)"><text x="0" y="0" font-size="26.0" font-weight="normal" text-anchor="end" fill="#555" stroke="#555" stroke-width="0.60">1.5</text></g>
<g transform="translate(439.90 254.20) scale(0.1000 0.1)"><text x="0" y="0" font-size="26.0" font-weight="normal" text-anchor="middle" fill="#555" stroke="#555" stroke-width="0.60">1.5</text></g>
<g transform="translate(365.50 145.15) scale(0.1000 0.1)"><text x="0" y="0" font-size="26.0" font-weight="normal" text-anchor="end" fill="#555" stroke="#555" stroke-width="0.60">2.0</text></g>
<g transform="translate(473.90 254.20) scale(0.1000 0.1)"><text x="0" y="0" font-size="26.0" font-weight="normal" text-anchor="middle" fill="#555" stroke="#555" stroke-width="0.60">2.0</text></g>
<g transform="translate(422.90 258.00) scale(0.0859 0.1)"><text x="0" y="0" font-size="39.0" font-weight="normal" text-anchor="middle" fill="#111" stroke="#111" stroke-width="0.90">Odds Ratio (ASN)</text></g>
<g transform="translate(359.60 194.90) rotate(-90) scale(0.0859 0.1)"><text x="0" y="0" font-size="39.0" font-weight="normal" text-anchor="middle" fill="#111" stroke="#111" stroke-width="0.90">Odds Ratio (AFR)</text></g>
<circle cx="485.70" cy="191.20" r="0.55" fill="#8a8a8a"/>
<g transform="translate(489.90 192.10) scale(0.0989 0.1)"><text x="0" y="0" font-size="27.0" font-weight="normal" text-anchor="start" fill="#1a1a1a" stroke="#1a1a1a" stroke-width="0.90">Not significant</text></g>
<circle cx="485.70" cy="196.25" r="0.55" fill="#e03030"/>
<g transform="translate(489.90 197.15) scale(0.0989 0.1)"><text x="0" y="0" font-size="27.0" font-weight="normal" text-anchor="start" fill="#1a1a1a" stroke="#1a1a1a" stroke-width="0.90">Significant in AFR only</text></g>
<circle cx="485.70" cy="201.30" r="0.55" fill="#3cc83c"/>
<g transform="translate(489.90 202.20) scale(0.0989 0.1)"><text x="0" y="0" font-size="27.0" font-weight="normal" text-anchor="start" fill="#1a1a1a" stroke="#1a1a1a" stroke-width="0.90">Significant in Both</text></g>
<line x1="556.15" y1="140.84" x2="556.15" y2="252.06" stroke="#d6d6d6" stroke-width="0.8"/>
<line x1="534.25" y1="230.15" x2="645.46" y2="230.15" stroke="#d6d6d6" stroke-width="0.8"/>
<line x1="589.85" y1="140.84" x2="589.85" y2="252.06" stroke="#d6d6d6" stroke-width="0.8"/>
<line x1="534.25" y1="196.45" x2="645.46" y2="196.45" stroke="#d6d6d6" stroke-width="0.8"/>
<line x1="623.55" y1="140.84" x2="623.55" y2="252.06" stroke="#d6d6d6" stroke-width="0.8"/>
<line x1="534.25" y1="162.75" x2="645.46" y2="162.75" stroke="#d6d6d6" stroke-width="0.8"/>
<line x1="539.30" y1="140.84" x2="539.30" y2="252.06" stroke="#d6d6d6" stroke-width="0.9"/>
<line x1="534.25" y1="247.00" x2="645.46" y2="247.00" stroke="#d6d6d6" stroke-width="0.9"/>
<line x1="573.00" y1="140.84" x2="573.00" y2="252.06" stroke="#d6d6d6" stroke-width="0.9"/>
<line x1="534.25" y1="213.30" x2="645.46" y2="213.30" stroke="#d6d6d6" stroke-width="0.9"/>
<line x1="606.70" y1="140.84" x2="606.70" y2="252.06" stroke="#d6d6d6" stroke-width="0.9"/>
<line x1="534.25" y1="179.60" x2="645.46" y2="179.60" stroke="#d6d6d6" stroke-width="0.9"/>
<line x1="640.40" y1="140.84" x2="640.40" y2="252.06" stroke="#d6d6d6" stroke-width="0.9"/>
<line x1="534.25" y1="145.90" x2="645.46" y2="145.90" stroke="#d6d6d6" stroke-width="0.9"/>
<line x1="573.00" y1="140.84" x2="573.00" y2="252.06" stroke="#4a4a4a" stroke-width="0.5" stroke-dasharray="1.4 1.1"/>
<line x1="534.25" y1="213.30" x2="645.46" y2="213.30" stroke="#4a4a4a" stroke-width="0.5" stroke-dasharray="1.4 1.1"/>
<path d="M570.7 204.2M566.4 213.2M594.2 211.4M580.7 211.1M590.3 208.8M574.8 213.5M576.8 210.7M582.8 212.6M576.0 209.4M592.5 219.2M590.0 203.2M594.3 200.6M579.2 209.2M582.8 206.0M574.4 209.1M596.2 201.7M595.8 207.4M569.4 213.3M568.3 211.4M575.3 214.1M562.7 208.0M580.2 212.6M573.9 215.9M572.3 206.0M567.0 205.8M571.2 217.8M585.0 205.3M555.9 217.3M582.8 202.5M576.8 204.2M540.9 236.5M581.9 213.0M567.9 208.8M579.8 207.0M593.1 204.6M570.5 212.0M591.4 207.2M585.0 201.2M580.4 211.0M575.9 208.4M573.2 206.4M586.0 201.5M580.4 205.3M572.0 206.7M577.8 216.8M583.8 209.3M555.0 218.9M573.3 204.6M584.3 206.3M573.3 213.9M571.9 206.5M564.9 214.9M543.4 217.0M578.1 212.6M581.3 206.6M621.0 200.5M595.6 206.9M577.5 217.0M584.1 202.5M581.5 209.2M577.8 206.1M561.6 209.7M570.6 209.8M588.1 200.3M579.8 212.4M579.0 212.6M570.2 208.4M564.0 213.9M581.8 210.4M594.6 211.1M545.4 224.0M580.3 206.0M572.2 208.0M587.6 213.7M566.3 215.2M576.0 209.7M605.6 204.7M585.3 204.4M581.1 219.8M570.5 223.4M581.5 213.1M584.8 208.5M565.9 217.6M582.0 205.0M566.7 207.8M570.4 214.1M583.6 212.0M569.5 208.3M538.2 230.0M579.9 209.7M579.2 216.4M549.4 209.4M578.1 212.5M576.7 215.4M578.7 205.6M558.9 210.9M567.0 216.2M599.0 199.8M572.2 212.5M559.3 219.4M591.5 212.0M552.3 210.6M595.7 196.0M574.8 208.7M587.0 190.8M569.3 205.8M589.8 202.2M574.7 212.6M583.9 211.6M585.5 210.6M575.1 206.7M607.1 211.9M582.1 215.4M580.8 211.4M576.5 208.9M564.3 209.5M571.3 208.4M587.1 213.4M561.5 209.0M551.7 217.8M585.2 206.9M596.1 220.7M557.8 205.1M571.6 215.7M572.5 211.8M590.8 202.3M570.6 206.0M582.4 209.1M578.4 217.8M539.0 235.5M588.7 209.2M602.8 200.5M582.7 208.4M572.2 211.0M574.6 211.5M566.8 206.5M580.7 212.9M579.9 207.8M580.3 211.6M595.4 191.9M588.0 198.1M566.3 208.2M572.6 209.4M570.5 208.2M567.5 207.2M602.6 197.3M557.0 208.5M584.7 206.8M572.3 210.3M604.2 197.9M587.1 198.7M565.7 213.6M569.8 211.4M580.0 209.7M571.9 215.8M564.2 206.6M560.7 207.7M561.1 210.8M565.1 212.8M570.6 206.7M545.1 220.5M586.2 198.5M550.6 201.5M562.9 212.1M583.3 213.6M553.2 209.6M572.5 217.0M586.1 213.2M581.0 222.5M570.5 203.8M584.6 207.8M572.6 217.1M570.5 216.3M583.6 205.6M575.4 209.5M581.6 206.1M585.9 203.4M583.5 216.3M579.2 220.6M579.9 209.9M562.0 208.3M570.6 212.8M588.2 208.1M578.7 210.3M580.7 211.5M569.9 216.5M573.7 206.3M583.7 213.0M577.8 211.6M568.6 202.8M575.6 207.0M584.1 211.6M568.8 219.8M564.4 214.8M580.4 219.4M582.1 215.0M584.0 219.4M572.8 202.1M593.1 197.2M575.1 206.0M581.9 200.4M584.9 208.4M561.4 219.6M591.9 206.6M583.8 213.0M581.2 213.0M554.1 208.1M590.0 207.3M578.6 203.9M585.5 195.6M575.8 214.4M576.4 213.0M557.7 214.4M583.7 207.5M559.8 219.3M598.3 195.4M568.6 214.5M574.4 204.5M611.6 193.0M576.5 205.0M571.0 192.0M581.8 201.7M604.6 203.0M566.5 222.5M592.7 205.8M561.3 207.4M586.3 204.9M594.6 192.6M579.0 204.1M577.8 211.3M552.3 222.2M564.4 214.6M593.0 213.3M554.0 216.5M581.3 217.6M552.5 207.7M565.0 204.3M612.0 204.1M573.3 210.5M580.6 208.1M583.3 211.7M586.9 207.0M583.6 211.0M542.8 219.1M579.5 225.1M579.6 204.5M567.5 212.1M577.1 209.7M570.5 213.6M607.6 189.4M566.2 213.4M554.4 225.6M567.4 212.0M564.6 215.2M572.3 207.9M556.4 211.2M566.4 219.0M558.3 213.9M577.3 211.3M594.9 210.9M603.3 201.8M575.8 209.1M591.2 209.0M580.6 204.4M590.1 213.2M556.9 212.9M602.6 191.6M555.2 209.1M598.4 204.1M582.7 209.8M596.0 193.3M582.8 207.2M566.7 210.0M571.2 213.5M571.6 213.3M607.2 195.7M583.1 211.4M583.7 218.3M600.7 219.4M553.4 196.1M575.5 215.4M563.5 214.8M607.6 218.3M571.6 204.6M584.3 214.3M578.3 213.3M578.2 209.1M581.4 204.6M586.8 203.4M570.2 214.8M581.3 211.9M556.2 219.8M550.0 207.8M577.2 200.5M593.2 205.2M573.7 210.9M567.5 214.3M576.2 201.0M577.6 215.3M568.5 212.7M582.7 204.9M585.5 213.4M582.1 211.1M575.8 215.7M548.9 212.6M573.4 210.0M604.3 198.1M586.2 205.2M585.9 203.4M578.8 210.3M550.7 209.9M593.8 210.1M572.4 213.0M568.3 215.2M595.5 209.9M576.3 207.8M568.9 208.1M573.5 211.7M569.0 212.5M579.1 211.3M556.0 203.3M558.1 226.0M564.6 218.9M577.6 207.5M600.3 214.1M578.9 204.3M560.9 220.3M573.4 210.3M572.2 215.4M562.0 215.5M560.5 232.3M570.4 211.0M557.9 234.3M566.6 207.8M576.5 203.3M550.8 212.2M563.8 206.1M564.4 202.7M567.6 217.0M582.5 204.4M567.7 216.8M572.9 203.1M600.8 210.1M567.1 208.7M602.3 213.6M570.6 202.6M577.6 221.5M565.0 213.2M581.9 215.2M559.3 213.0M570.9 210.1M570.7 208.5M560.4 218.8M576.9 213.2M557.4 216.5M608.4 202.6M584.0 212.1M582.4 216.3M597.1 193.6M577.1 214.0M565.2 205.1M594.1 208.0M572.1 217.7M572.6 215.8M583.0 209.3M571.0 211.5M580.8 210.5M599.5 191.7M579.0 210.8M571.8 208.8M572.0 215.0M588.7 207.9M587.8 211.2M574.9 209.9M561.6 214.7M590.7 204.2M566.1 222.1M568.9 211.3M580.2 208.6M571.5 209.3M561.7 214.0M570.4 190.8M586.7 209.1M578.7 205.0M556.2 227.5M566.6 217.0M548.2 220.6M564.9 214.3M568.4 216.0M573.6 210.9M572.5 205.8M579.4 210.9M603.8 204.9M577.9 207.0M570.0 214.8M563.8 201.6M581.7 219.5M562.5 198.8M582.7 207.3M596.4 202.6M571.3 216.0M597.5 207.2M575.8 202.0M577.9 210.7M580.1 219.8M582.9 216.3M576.5 222.7M585.0 207.1M615.8 213.4M560.8 224.7M574.8 209.0M590.6 216.5M555.9 218.8M570.4 215.7M573.0 217.0M586.8 211.5M585.1 212.3M578.4 207.5M578.4 206.4M581.5 205.8M557.7 205.6M593.8 197.7M599.0 194.9M574.8 208.7M582.9 204.6M568.1 215.2M579.1 206.6M558.2 209.4M577.9 209.9M559.5 208.6M559.5 213.6M596.3 201.2M569.3 215.7M570.1 217.4M573.5 213.4M539.5 210.8M573.2 221.2M588.9 203.3M576.2 209.0M608.1 215.6M574.1 211.9M585.1 210.7M565.2 215.8M563.7 201.9M568.5 211.2M580.5 202.7M593.8 212.0M577.4 218.9M565.0 216.3M569.3 213.7M578.0 209.8M599.3 210.4M577.4 199.8M558.7 208.6M589.3 200.8M560.9 210.4M587.8 208.9M586.8 207.4M568.4 212.4M572.6 207.9M564.1 218.2M580.8 203.4M579.2 213.2M571.4 214.1M573.6 211.4M565.4 207.4M595.7 217.5M548.7 222.8M594.4 215.4M576.6 214.3M610.2 209.8M587.0 201.9M571.1 211.8M591.1 207.7M568.8 211.5M566.3 212.5M569.1 210.4M579.5 203.2M565.0 204.4M587.9 212.9M578.3 214.2M566.1 210.3M562.4 211.1M595.1 197.3M581.6 212.0M574.4 210.9M561.2 200.5M568.1 204.2M577.9 207.6M580.5 211.2M554.9 212.7M570.6 216.7M550.2 218.2M580.4 209.4M562.6 208.0M556.4 222.2M579.3 198.4M577.5 216.3M586.4 212.8M577.7 215.9M562.2 214.3M576.9 205.5M579.9 216.2M572.7 202.0M572.9 207.6M577.2 211.0M573.2 222.3M584.4 210.3M576.8 200.6M571.0 208.9M557.0 221.1M580.1 208.7M574.0 222.6M573.5 215.8M556.5 206.8M591.6 204.8M573.4 215.2M551.7 197.8M569.2 220.3M597.8 212.8M582.1 204.8M571.5 211.7M568.3 212.3M576.0 215.8M580.1 209.3M587.1 198.4M574.3 215.0M562.0 221.6M551.8 215.7M549.5 220.7M585.4 216.2M590.6 205.3M585.7 206.5M585.4 198.8M601.9 201.9M574.7 210.8M581.5 197.7M578.9 207.7M579.7 212.0M573.3 207.4M590.7 209.7M591.7 204.3M595.7 213.1M567.1 212.8M571.6 212.1M570.2 211.4M587.2 206.6M578.6 210.8M569.4 219.5M583.0 204.1M554.6 217.6M560.1 212.2M587.2 213.9M580.9 212.6M580.0 210.3M589.0 201.9M591.0 213.0M561.1 209.2M559.3 214.0M579.8 204.8M576.7 211.0M585.1 205.9M594.7 203.7M606.8 196.1M593.1 202.4M552.0 217.7M585.6 198.4M580.6 214.2M562.1 232.5M587.7 212.2M586.8 219.6M556.3 205.7M577.0 213.3M643.4 184.3M581.2 206.4M566.3 212.7M603.5 209.1M552.8 214.2M562.3 225.3M576.9 211.2M596.0 209.1M564.8 210.7M582.2 206.9M559.1 222.2M571.6 207.2M585.8 196.6M574.9 205.1M555.2 213.1M579.8 213.3M572.5 209.9M559.0 215.2M569.3 203.5M570.3 209.1M561.2 213.8M568.9 207.6M578.1 216.1M587.8 208.3M550.8 207.6M551.4 210.8M588.9 218.6M580.0 210.5M590.1 197.2M583.7 205.4M569.1 220.5M577.0 206.3M562.1 213.1M586.9 210.9M572.9 205.2M569.8 212.4M571.5 207.3M593.5 210.6M573.4 204.7M562.2 218.7M575.9 214.3M579.3 208.9M578.8 212.0M593.3 216.0M576.7 209.5M570.7 215.0M580.6 204.0M568.7 207.0M582.9 212.6M585.7 203.4M587.8 215.1M590.3 192.8M574.7 209.7M574.1 211.1M578.0 215.5M549.2 218.3M563.5 221.7M572.3 215.1M584.9 207.3M559.6 206.1M555.3 217.6M568.9 214.6M583.7 206.8M575.8 204.4M595.1 199.6M581.6 199.0M561.4 221.4M575.0 208.2M582.3 211.6M577.8 206.1M562.6 216.7M563.8 205.6M566.7 216.2M583.0 207.4M566.1 210.8M579.5 213.4M559.1 215.5M554.1 222.4M583.6 214.7M556.7 209.9M588.5 224.1M559.0 213.8M590.2 215.0M572.2 212.1M573.2 209.2M582.0 211.1M564.8 214.0M577.7 206.3M587.7 203.5M570.2 216.7M575.8 201.6M571.9 218.7M589.2 205.9M538.0 212.9M576.9 206.5M575.2 212.1M573.3 222.4M557.4 210.9M580.8 213.5M589.7 205.3M572.8 210.1M558.7 226.1M593.3 214.2M565.0 214.4M588.0 206.0M568.8 204.2M571.9 214.4M580.1 212.6M568.0 207.8M577.2 210.6M564.6 212.9M570.3 218.0M582.0 217.1M593.8 203.5M563.6 214.6M588.3 206.8M566.6 213.3M559.0 215.1M591.3 211.7M575.1 200.0M569.7 213.0M571.5 210.4M581.1 209.7M576.9 206.3M554.1 208.3M578.4 206.3M582.7 213.3M573.8 208.5M574.6 204.8M558.0 208.3M577.7 215.5M556.2 217.7M567.1 210.3M576.6 201.1M568.6 212.3M580.1 213.7M590.7 203.2M580.0 211.5M563.5 217.4M562.4 220.1M581.2 202.7M583.1 204.8M567.5 212.4M603.3 213.1M589.3 213.9M562.5 220.3M589.9 209.6M579.7 222.3M567.5 208.8M579.1 206.6M597.5 208.6M578.9 208.8M564.5 214.7M594.9 203.6M572.1 208.4M577.6 209.3M582.1 205.2M582.7 211.7M562.6 217.8M574.1 207.0M577.2 206.0M579.4 205.2M613.9 215.2M573.1 205.3M553.6 221.6M575.8 212.5M613.4 194.8M579.5 197.1M573.2 213.1M582.5 209.7M570.9 214.0M551.6 215.7M588.0 206.9M562.0 211.7M581.7 214.0M587.2 214.8M580.1 208.1M579.8 200.1M564.7 219.7M573.9 204.6M587.6 206.6M547.2 212.9M583.6 207.9M574.3 196.0M584.0 210.0M580.1 216.2M617.6 201.4M569.1 214.6M568.4 208.3M569.8 219.9M559.3 210.6M565.6 212.9M575.7 213.0M567.6 206.4M580.1 205.4M581.9 204.3M575.8 204.9M547.9 215.9M579.1 211.1M565.9 216.6M561.6 212.1M566.6 215.3M587.6 211.6M572.0 214.9M568.5 225.4M580.9 209.8M593.1 208.8M587.6 207.7M576.4 207.2M586.1 216.1M591.5 204.6M573.8 210.1M557.9 217.2M578.0 213.7M579.3 205.2M574.0 226.3M560.2 228.0M578.6 204.3M573.3 208.7M568.2 211.2M589.5 204.9M588.0 222.5M578.3 206.0M573.6 210.9M545.5 215.8M560.3 211.9M556.3 217.2M552.0 202.3M578.6 202.6M592.7 204.1M568.4 216.1M588.8 206.9M579.0 208.3M570.5 207.3M564.0 211.9M592.9 202.1M569.8 211.0M547.7 215.2M582.7 202.6M589.5 202.5M570.7 199.1M567.6 210.6M574.1 216.7M575.3 207.9M561.6 211.3M554.3 207.2M585.1 204.7M578.5 216.0M603.7 195.2M544.4 205.6M583.6 199.0M535.3 229.4M567.8 204.2M572.8 206.4M580.9 210.5M563.5 214.2M573.3 210.4M587.7 196.4M577.0 212.1M579.4 209.0M583.0 204.4M577.8 204.8M583.3 212.5M582.1 207.8M585.0 204.7M579.4 199.5M583.1 196.0M591.5 213.8M568.3 215.1M565.1 216.1M571.0 214.8M600.4 193.1M575.9 204.4" fill="none" stroke="none" marker-start="url(#mk_grey)" marker-mid="url(#mk_grey)" marker-end="url(#mk_grey)"/>
<path d="M571.4 204.4M583.4 192.5M554.4 198.8M581.9 202.4M577.1 200.5M588.7 193.3M562.4 208.7M590.3 201.2M593.2 194.7M594.8 195.0M579.1 198.1M595.7 197.2M580.0 197.3M580.5 203.7M572.1 196.8M572.3 206.2M579.5 205.4M583.9 197.0M592.9 186.1M573.4 206.0M588.1 199.8M585.5 205.4M585.7 206.8M586.8 191.7M584.1 202.0M569.4 202.1M578.3 204.1M574.0 203.9M575.0 199.4M567.4 199.5M584.3 205.0M586.4 202.9M570.4 205.3M602.5 194.6M577.0 205.9M578.2 207.5M581.2 201.6M580.1 199.3M588.2 195.8M587.4 199.1M603.9 194.9M584.1 168.0M601.5 192.3M573.9 179.2M573.4 184.3M563.0 178.3M559.4 183.6M593.3 192.2M559.9 198.7M554.8 165.9M554.7 198.9M587.8 184.5M598.2 170.9M589.6 185.7M574.7 187.0M597.0 178.5M592.3 203.1M571.7 192.4M575.0 196.4M593.1 173.7M609.9 190.7M581.5 184.0M582.9 194.1M594.8 206.8M575.9 205.5M592.3 200.0M565.9 185.2M567.6 182.4M577.3 163.9M565.0 193.9" fill="none" stroke="none" marker-start="url(#mk_red)" marker-mid="url(#mk_red)" marker-end="url(#mk_red)"/>
<path d="M600.5 192.7M600.1 194.1M601.8 191.9M603.1 197.7M599.5 193.8M599.9 196.3M601.3 197.6M601.6 191.2M592.5 191.7M592.1 191.2M617.8 171.3M613.4 179.0M629.6 154.7M639.7 151.6M632.3 160.3M625.7 151.0M636.1 151.8M625.9 172.4M632.3 151.4M628.2 167.1M625.3 163.7M610.9 174.1" fill="none" stroke="none" marker-start="url(#mk_green)" marker-mid="url(#mk_green)" marker-end="url(#mk_green)"/>
<line x1="539.30" y1="223.34" x2="639.19" y2="180.27" stroke="#e94040" stroke-width="1.1"/>
<g transform="translate(600.80 174.30) scale(0.0846 0.1)"><text x="0" y="0" font-size="49.0" font-weight="normal" text-anchor="start" fill="#1a1a1a" stroke="#1a1a1a" stroke-width="1.40">Correlation R = 0.59</text></g>
<g transform="translate(534.45 139.30) scale(0.0766 0.1)"><text x="0" y="0" font-size="50.0" font-weight="normal" text-anchor="start" fill="#111" stroke="#111" stroke-width="1.30">Comparison of Odds Ratios: ASN vs HIS</text></g>
<g transform="translate(532.95 247.95) scale(0.1000 0.1)"><text x="0" y="0" font-size="26.0" font-weight="normal" text-anchor="end" fill="#555" stroke="#555" stroke-width="0.60">0.5</text></g>
<g transform="translate(539.30 255.60) scale(0.1000 0.1)"><text x="0" y="0" font-size="26.0" font-weight="normal" text-anchor="middle" fill="#555" stroke="#555" stroke-width="0.60">0.5</text></g>
<g transform="translate(532.95 214.25) scale(0.1000 0.1)"><text x="0" y="0" font-size="26.0" font-weight="normal" text-anchor="end" fill="#555" stroke="#555" stroke-width="0.60">1.0</text></g>
<g transform="translate(573.00 255.60) scale(0.1000 0.1)"><text x="0" y="0" font-size="26.0" font-weight="normal" text-anchor="middle" fill="#555" stroke="#555" stroke-width="0.60">1.0</text></g>
<g transform="translate(532.95 180.55) scale(0.1000 0.1)"><text x="0" y="0" font-size="26.0" font-weight="normal" text-anchor="end" fill="#555" stroke="#555" stroke-width="0.60">1.5</text></g>
<g transform="translate(606.70 255.60) scale(0.1000 0.1)"><text x="0" y="0" font-size="26.0" font-weight="normal" text-anchor="middle" fill="#555" stroke="#555" stroke-width="0.60">1.5</text></g>
<g transform="translate(532.95 146.85) scale(0.1000 0.1)"><text x="0" y="0" font-size="26.0" font-weight="normal" text-anchor="end" fill="#555" stroke="#555" stroke-width="0.60">2.0</text></g>
<g transform="translate(640.40 255.60) scale(0.1000 0.1)"><text x="0" y="0" font-size="26.0" font-weight="normal" text-anchor="middle" fill="#555" stroke="#555" stroke-width="0.60">2.0</text></g>
<g transform="translate(589.85 259.40) scale(0.0859 0.1)"><text x="0" y="0" font-size="39.0" font-weight="normal" text-anchor="middle" fill="#111" stroke="#111" stroke-width="0.90">Odds Ratio (ASN)</text></g>
<g transform="translate(527.00 196.45) rotate(-90) scale(0.0859 0.1)"><text x="0" y="0" font-size="39.0" font-weight="normal" text-anchor="middle" fill="#111" stroke="#111" stroke-width="0.90">Odds Ratio (HIS)</text></g>
<circle cx="653.20" cy="192.10" r="0.55" fill="#8a8a8a"/>
<g transform="translate(657.40 193.00) scale(0.0989 0.1)"><text x="0" y="0" font-size="27.0" font-weight="normal" text-anchor="start" fill="#1a1a1a" stroke="#1a1a1a" stroke-width="0.90">Not significant</text></g>
<circle cx="653.20" cy="197.40" r="0.55" fill="#3cc83c"/>
<g transform="translate(657.40 198.30) scale(0.0989 0.1)"><text x="0" y="0" font-size="27.0" font-weight="normal" text-anchor="start" fill="#1a1a1a" stroke="#1a1a1a" stroke-width="0.90">Significant in Both</text></g>
<circle cx="653.20" cy="202.70" r="0.55" fill="#e03030"/>
<g transform="translate(657.40 203.60) scale(0.0989 0.1)"><text x="0" y="0" font-size="27.0" font-weight="normal" text-anchor="start" fill="#1a1a1a" stroke="#1a1a1a" stroke-width="0.90">Significant in HIS only</text></g>
</svg></body></html>
